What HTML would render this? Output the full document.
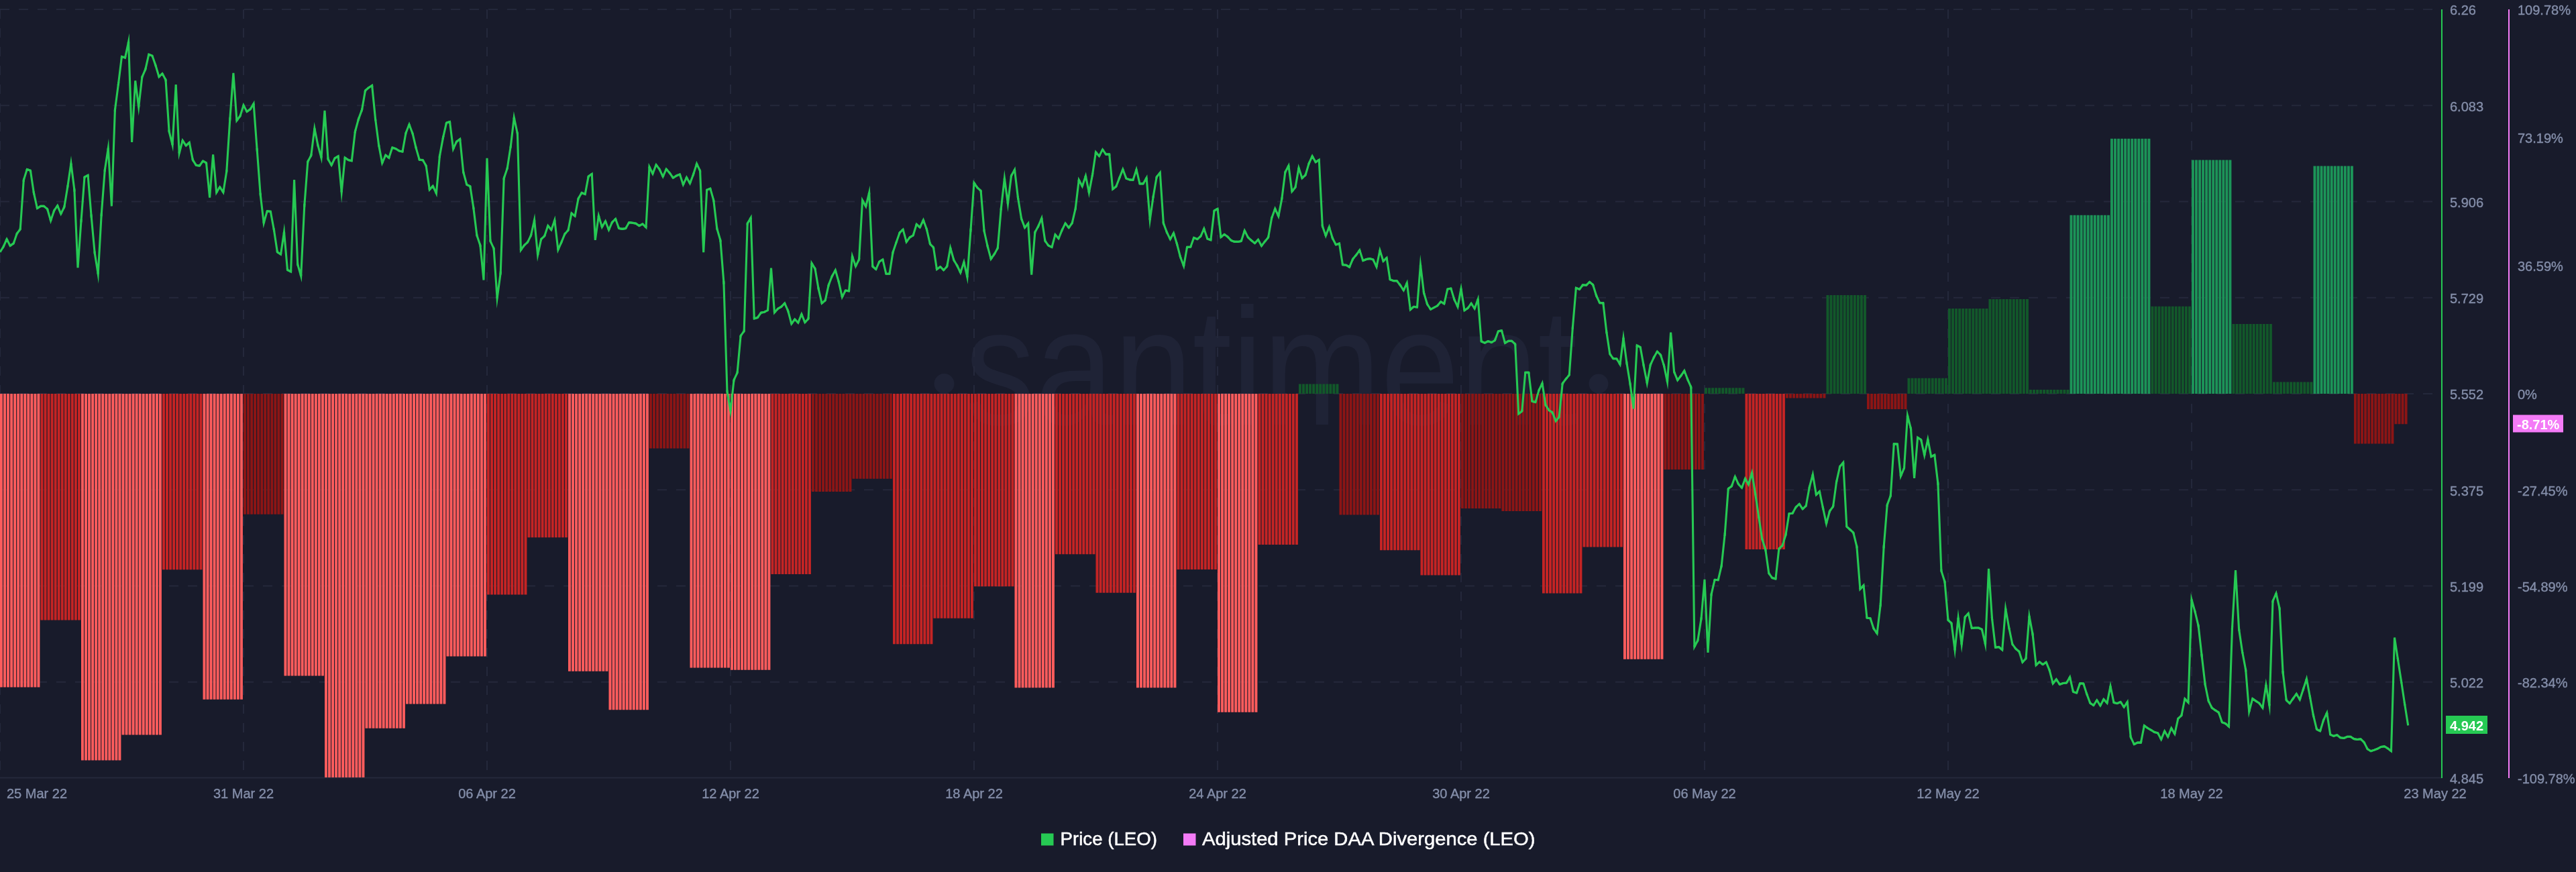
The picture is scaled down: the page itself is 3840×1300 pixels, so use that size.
<!DOCTYPE html>
<html lang="en"><head><meta charset="utf-8"><title>Price (LEO) vs Adjusted Price DAA Divergence (LEO)</title>
<style>html,body{margin:0;padding:0;background:#181b2b;}body{width:3840px;height:1300px;overflow:hidden;}svg{display:block;}text{font-family:"Liberation Sans",sans-serif;}.ax{font-size:20px;fill:#838da8;stroke:#838da8;stroke-width:0.4px;}svg{will-change:transform;}.bd{font-size:20px;font-weight:bold;fill:#fff;}.lg{font-size:28.5px;fill:#fff;stroke:#fff;stroke-width:0.5px;}.wm{font-family:"Liberation Sans",sans-serif;font-size:248px;fill:#1f2336;}</style></head><body>
<svg width="3840" height="1300" viewBox="0 0 3840 1300">
<rect width="3840" height="1300" fill="#181b2b"/>
<circle cx="1407.5" cy="572" r="15" fill="#1f2336"/><circle cx="2383" cy="572" r="14.5" fill="#1f2336"/>
<text class="wm" x="1438" y="633" textLength="913" lengthAdjust="spacingAndGlyphs">santiment</text>
<g stroke="#24283b" stroke-width="2" stroke-dasharray="14 14" fill="none">
<path d="M0 14.00H3630"/>
<path d="M0 157.25H3630"/>
<path d="M0 300.50H3630"/>
<path d="M0 443.75H3630"/>
<path d="M0 587.00H3630"/>
<path d="M0 730.25H3630"/>
<path d="M0 873.50H3630"/>
<path d="M0 1016.75H3630"/>
<path d="M0 14V1159"/>
<path d="M363 14V1159"/>
<path d="M726 14V1159"/>
<path d="M1089 14V1159"/>
<path d="M1452 14V1159"/>
<path d="M1815 14V1159"/>
<path d="M2178 14V1159"/>
<path d="M2541 14V1159"/>
<path d="M2904 14V1159"/>
<path d="M3267 14V1159"/>
</g>
<path d="M0 1159.5H3640" stroke="#24283b" stroke-width="2" fill="none"/>
<path fill="#ff5c5c" d="M0.00 587.0h3.95V1024.5h-3.95zM5.04 587.0h3.95V1024.5h-3.95zM10.08 587.0h3.95V1024.5h-3.95zM15.12 587.0h3.95V1024.5h-3.95zM20.17 587.0h3.95V1024.5h-3.95zM25.21 587.0h3.95V1024.5h-3.95zM30.25 587.0h3.95V1024.5h-3.95zM35.29 587.0h3.95V1024.5h-3.95zM40.33 587.0h3.95V1024.5h-3.95zM45.38 587.0h3.95V1024.5h-3.95zM50.42 587.0h3.95V1024.5h-3.95zM55.46 587.0h3.95V1024.5h-3.95zM121.00 587.0h3.95V1133.5h-3.95zM126.04 587.0h3.95V1133.5h-3.95zM131.08 587.0h3.95V1133.5h-3.95zM136.12 587.0h3.95V1133.5h-3.95zM141.17 587.0h3.95V1133.5h-3.95zM146.21 587.0h3.95V1133.5h-3.95zM151.25 587.0h3.95V1133.5h-3.95zM156.29 587.0h3.95V1133.5h-3.95zM161.33 587.0h3.95V1133.5h-3.95zM166.38 587.0h3.95V1133.5h-3.95zM171.42 587.0h3.95V1133.5h-3.95zM176.46 587.0h3.95V1133.5h-3.95zM181.50 587.0h3.95V1095.6h-3.95zM186.54 587.0h3.95V1095.6h-3.95zM191.58 587.0h3.95V1095.6h-3.95zM196.62 587.0h3.95V1095.6h-3.95zM201.67 587.0h3.95V1095.6h-3.95zM206.71 587.0h3.95V1095.6h-3.95zM211.75 587.0h3.95V1095.6h-3.95zM216.79 587.0h3.95V1095.6h-3.95zM221.83 587.0h3.95V1095.6h-3.95zM226.88 587.0h3.95V1095.6h-3.95zM231.92 587.0h3.95V1095.6h-3.95zM236.96 587.0h3.95V1095.6h-3.95zM302.50 587.0h3.95V1042.8h-3.95zM307.54 587.0h3.95V1042.8h-3.95zM312.58 587.0h3.95V1042.8h-3.95zM317.62 587.0h3.95V1042.8h-3.95zM322.67 587.0h3.95V1042.8h-3.95zM327.71 587.0h3.95V1042.8h-3.95zM332.75 587.0h3.95V1042.8h-3.95zM337.79 587.0h3.95V1042.8h-3.95zM342.83 587.0h3.95V1042.8h-3.95zM347.88 587.0h3.95V1042.8h-3.95zM352.92 587.0h3.95V1042.8h-3.95zM357.96 587.0h3.95V1042.8h-3.95zM423.50 587.0h3.95V1007.6h-3.95zM428.54 587.0h3.95V1007.6h-3.95zM433.58 587.0h3.95V1007.6h-3.95zM438.62 587.0h3.95V1007.6h-3.95zM443.67 587.0h3.95V1007.6h-3.95zM448.71 587.0h3.95V1007.6h-3.95zM453.75 587.0h3.95V1007.6h-3.95zM458.79 587.0h3.95V1007.6h-3.95zM463.83 587.0h3.95V1007.6h-3.95zM468.88 587.0h3.95V1007.6h-3.95zM473.92 587.0h3.95V1007.6h-3.95zM478.96 587.0h3.95V1007.6h-3.95zM484.00 587.0h3.95V1159.0h-3.95zM489.04 587.0h3.95V1159.0h-3.95zM494.08 587.0h3.95V1159.0h-3.95zM499.13 587.0h3.95V1159.0h-3.95zM504.17 587.0h3.95V1159.0h-3.95zM509.21 587.0h3.95V1159.0h-3.95zM514.25 587.0h3.95V1159.0h-3.95zM519.29 587.0h3.95V1159.0h-3.95zM524.33 587.0h3.95V1159.0h-3.95zM529.38 587.0h3.95V1159.0h-3.95zM534.42 587.0h3.95V1159.0h-3.95zM539.46 587.0h3.95V1159.0h-3.95zM544.50 587.0h3.95V1085.8h-3.95zM549.54 587.0h3.95V1085.8h-3.95zM554.58 587.0h3.95V1085.8h-3.95zM559.62 587.0h3.95V1085.8h-3.95zM564.67 587.0h3.95V1085.8h-3.95zM569.71 587.0h3.95V1085.8h-3.95zM574.75 587.0h3.95V1085.8h-3.95zM579.79 587.0h3.95V1085.8h-3.95zM584.83 587.0h3.95V1085.8h-3.95zM589.88 587.0h3.95V1085.8h-3.95zM594.92 587.0h3.95V1085.8h-3.95zM599.96 587.0h3.95V1085.8h-3.95zM605.00 587.0h3.95V1049.6h-3.95zM610.04 587.0h3.95V1049.6h-3.95zM615.08 587.0h3.95V1049.6h-3.95zM620.12 587.0h3.95V1049.6h-3.95zM625.17 587.0h3.95V1049.6h-3.95zM630.21 587.0h3.95V1049.6h-3.95zM635.25 587.0h3.95V1049.6h-3.95zM640.29 587.0h3.95V1049.6h-3.95zM645.33 587.0h3.95V1049.6h-3.95zM650.38 587.0h3.95V1049.6h-3.95zM655.42 587.0h3.95V1049.6h-3.95zM660.46 587.0h3.95V1049.6h-3.95zM665.50 587.0h3.95V978.4h-3.95zM670.54 587.0h3.95V978.4h-3.95zM675.58 587.0h3.95V978.4h-3.95zM680.62 587.0h3.95V978.4h-3.95zM685.67 587.0h3.95V978.4h-3.95zM690.71 587.0h3.95V978.4h-3.95zM695.75 587.0h3.95V978.4h-3.95zM700.79 587.0h3.95V978.4h-3.95zM705.83 587.0h3.95V978.4h-3.95zM710.88 587.0h3.95V978.4h-3.95zM715.92 587.0h3.95V978.4h-3.95zM720.96 587.0h3.95V978.4h-3.95zM847.00 587.0h3.95V1000.8h-3.95zM852.04 587.0h3.95V1000.8h-3.95zM857.08 587.0h3.95V1000.8h-3.95zM862.12 587.0h3.95V1000.8h-3.95zM867.17 587.0h3.95V1000.8h-3.95zM872.21 587.0h3.95V1000.8h-3.95zM877.25 587.0h3.95V1000.8h-3.95zM882.29 587.0h3.95V1000.8h-3.95zM887.33 587.0h3.95V1000.8h-3.95zM892.38 587.0h3.95V1000.8h-3.95zM897.42 587.0h3.95V1000.8h-3.95zM902.46 587.0h3.95V1000.8h-3.95zM907.50 587.0h3.95V1058.2h-3.95zM912.54 587.0h3.95V1058.2h-3.95zM917.58 587.0h3.95V1058.2h-3.95zM922.62 587.0h3.95V1058.2h-3.95zM927.67 587.0h3.95V1058.2h-3.95zM932.71 587.0h3.95V1058.2h-3.95zM937.75 587.0h3.95V1058.2h-3.95zM942.79 587.0h3.95V1058.2h-3.95zM947.83 587.0h3.95V1058.2h-3.95zM952.88 587.0h3.95V1058.2h-3.95zM957.92 587.0h3.95V1058.2h-3.95zM962.96 587.0h3.95V1058.2h-3.95zM1028.50 587.0h3.95V995.4h-3.95zM1033.54 587.0h3.95V995.4h-3.95zM1038.58 587.0h3.95V995.4h-3.95zM1043.62 587.0h3.95V995.4h-3.95zM1048.67 587.0h3.95V995.4h-3.95zM1053.71 587.0h3.95V995.4h-3.95zM1058.75 587.0h3.95V995.4h-3.95zM1063.79 587.0h3.95V995.4h-3.95zM1068.83 587.0h3.95V995.4h-3.95zM1073.88 587.0h3.95V995.4h-3.95zM1078.92 587.0h3.95V995.4h-3.95zM1083.96 587.0h3.95V995.4h-3.95zM1089.00 587.0h3.95V998.8h-3.95zM1094.04 587.0h3.95V998.8h-3.95zM1099.08 587.0h3.95V998.8h-3.95zM1104.12 587.0h3.95V998.8h-3.95zM1109.17 587.0h3.95V998.8h-3.95zM1114.21 587.0h3.95V998.8h-3.95zM1119.25 587.0h3.95V998.8h-3.95zM1124.29 587.0h3.95V998.8h-3.95zM1129.33 587.0h3.95V998.8h-3.95zM1134.38 587.0h3.95V998.8h-3.95zM1139.42 587.0h3.95V998.8h-3.95zM1144.46 587.0h3.95V998.8h-3.95zM1512.50 587.0h3.95V1025.2h-3.95zM1517.54 587.0h3.95V1025.2h-3.95zM1522.58 587.0h3.95V1025.2h-3.95zM1527.62 587.0h3.95V1025.2h-3.95zM1532.67 587.0h3.95V1025.2h-3.95zM1537.71 587.0h3.95V1025.2h-3.95zM1542.75 587.0h3.95V1025.2h-3.95zM1547.79 587.0h3.95V1025.2h-3.95zM1552.83 587.0h3.95V1025.2h-3.95zM1557.88 587.0h3.95V1025.2h-3.95zM1562.92 587.0h3.95V1025.2h-3.95zM1567.96 587.0h3.95V1025.2h-3.95zM1694.00 587.0h3.95V1025.2h-3.95zM1699.04 587.0h3.95V1025.2h-3.95zM1704.08 587.0h3.95V1025.2h-3.95zM1709.12 587.0h3.95V1025.2h-3.95zM1714.17 587.0h3.95V1025.2h-3.95zM1719.21 587.0h3.95V1025.2h-3.95zM1724.25 587.0h3.95V1025.2h-3.95zM1729.29 587.0h3.95V1025.2h-3.95zM1734.33 587.0h3.95V1025.2h-3.95zM1739.38 587.0h3.95V1025.2h-3.95zM1744.42 587.0h3.95V1025.2h-3.95zM1749.46 587.0h3.95V1025.2h-3.95zM1815.00 587.0h3.95V1061.7h-3.95zM1820.04 587.0h3.95V1061.7h-3.95zM1825.08 587.0h3.95V1061.7h-3.95zM1830.12 587.0h3.95V1061.7h-3.95zM1835.17 587.0h3.95V1061.7h-3.95zM1840.21 587.0h3.95V1061.7h-3.95zM1845.25 587.0h3.95V1061.7h-3.95zM1850.29 587.0h3.95V1061.7h-3.95zM1855.33 587.0h3.95V1061.7h-3.95zM1860.38 587.0h3.95V1061.7h-3.95zM1865.42 587.0h3.95V1061.7h-3.95zM1870.46 587.0h3.95V1061.7h-3.95zM2420.00 587.0h3.95V982.7h-3.95zM2425.04 587.0h3.95V982.7h-3.95zM2430.08 587.0h3.95V982.7h-3.95zM2435.12 587.0h3.95V982.7h-3.95zM2440.17 587.0h3.95V982.7h-3.95zM2445.21 587.0h3.95V982.7h-3.95zM2450.25 587.0h3.95V982.7h-3.95zM2455.29 587.0h3.95V982.7h-3.95zM2460.33 587.0h3.95V982.7h-3.95zM2465.38 587.0h3.95V982.7h-3.95zM2470.42 587.0h3.95V982.7h-3.95zM2475.46 587.0h3.95V982.7h-3.95z"/>
<path fill="#c42424" d="M60.50 587.0h3.95V924.4h-3.95zM65.54 587.0h3.95V924.4h-3.95zM70.58 587.0h3.95V924.4h-3.95zM75.62 587.0h3.95V924.4h-3.95zM80.67 587.0h3.95V924.4h-3.95zM85.71 587.0h3.95V924.4h-3.95zM90.75 587.0h3.95V924.4h-3.95zM95.79 587.0h3.95V924.4h-3.95zM100.83 587.0h3.95V924.4h-3.95zM105.88 587.0h3.95V924.4h-3.95zM110.92 587.0h3.95V924.4h-3.95zM115.96 587.0h3.95V924.4h-3.95zM242.00 587.0h3.95V849.3h-3.95zM247.04 587.0h3.95V849.3h-3.95zM252.08 587.0h3.95V849.3h-3.95zM257.12 587.0h3.95V849.3h-3.95zM262.17 587.0h3.95V849.3h-3.95zM267.21 587.0h3.95V849.3h-3.95zM272.25 587.0h3.95V849.3h-3.95zM277.29 587.0h3.95V849.3h-3.95zM282.33 587.0h3.95V849.3h-3.95zM287.38 587.0h3.95V849.3h-3.95zM292.42 587.0h3.95V849.3h-3.95zM297.46 587.0h3.95V849.3h-3.95zM726.00 587.0h3.95V886.5h-3.95zM731.04 587.0h3.95V886.5h-3.95zM736.08 587.0h3.95V886.5h-3.95zM741.12 587.0h3.95V886.5h-3.95zM746.17 587.0h3.95V886.5h-3.95zM751.21 587.0h3.95V886.5h-3.95zM756.25 587.0h3.95V886.5h-3.95zM761.29 587.0h3.95V886.5h-3.95zM766.33 587.0h3.95V886.5h-3.95zM771.38 587.0h3.95V886.5h-3.95zM776.42 587.0h3.95V886.5h-3.95zM781.46 587.0h3.95V886.5h-3.95zM786.50 587.0h3.95V801.2h-3.95zM791.54 587.0h3.95V801.2h-3.95zM796.58 587.0h3.95V801.2h-3.95zM801.62 587.0h3.95V801.2h-3.95zM806.67 587.0h3.95V801.2h-3.95zM811.71 587.0h3.95V801.2h-3.95zM816.75 587.0h3.95V801.2h-3.95zM821.79 587.0h3.95V801.2h-3.95zM826.83 587.0h3.95V801.2h-3.95zM831.88 587.0h3.95V801.2h-3.95zM836.92 587.0h3.95V801.2h-3.95zM841.96 587.0h3.95V801.2h-3.95zM1149.50 587.0h3.95V856.0h-3.95zM1154.54 587.0h3.95V856.0h-3.95zM1159.58 587.0h3.95V856.0h-3.95zM1164.62 587.0h3.95V856.0h-3.95zM1169.67 587.0h3.95V856.0h-3.95zM1174.71 587.0h3.95V856.0h-3.95zM1179.75 587.0h3.95V856.0h-3.95zM1184.79 587.0h3.95V856.0h-3.95zM1189.83 587.0h3.95V856.0h-3.95zM1194.88 587.0h3.95V856.0h-3.95zM1199.92 587.0h3.95V856.0h-3.95zM1204.96 587.0h3.95V856.0h-3.95zM1331.00 587.0h3.95V960.2h-3.95zM1336.04 587.0h3.95V960.2h-3.95zM1341.08 587.0h3.95V960.2h-3.95zM1346.12 587.0h3.95V960.2h-3.95zM1351.17 587.0h3.95V960.2h-3.95zM1356.21 587.0h3.95V960.2h-3.95zM1361.25 587.0h3.95V960.2h-3.95zM1366.29 587.0h3.95V960.2h-3.95zM1371.33 587.0h3.95V960.2h-3.95zM1376.38 587.0h3.95V960.2h-3.95zM1381.42 587.0h3.95V960.2h-3.95zM1386.46 587.0h3.95V960.2h-3.95zM1391.50 587.0h3.95V921.7h-3.95zM1396.54 587.0h3.95V921.7h-3.95zM1401.58 587.0h3.95V921.7h-3.95zM1406.62 587.0h3.95V921.7h-3.95zM1411.67 587.0h3.95V921.7h-3.95zM1416.71 587.0h3.95V921.7h-3.95zM1421.75 587.0h3.95V921.7h-3.95zM1426.79 587.0h3.95V921.7h-3.95zM1431.83 587.0h3.95V921.7h-3.95zM1436.88 587.0h3.95V921.7h-3.95zM1441.92 587.0h3.95V921.7h-3.95zM1446.96 587.0h3.95V921.7h-3.95zM1452.00 587.0h3.95V874.3h-3.95zM1457.04 587.0h3.95V874.3h-3.95zM1462.08 587.0h3.95V874.3h-3.95zM1467.12 587.0h3.95V874.3h-3.95zM1472.17 587.0h3.95V874.3h-3.95zM1477.21 587.0h3.95V874.3h-3.95zM1482.25 587.0h3.95V874.3h-3.95zM1487.29 587.0h3.95V874.3h-3.95zM1492.33 587.0h3.95V874.3h-3.95zM1497.38 587.0h3.95V874.3h-3.95zM1502.42 587.0h3.95V874.3h-3.95zM1507.46 587.0h3.95V874.3h-3.95zM1573.00 587.0h3.95V826.3h-3.95zM1578.04 587.0h3.95V826.3h-3.95zM1583.08 587.0h3.95V826.3h-3.95zM1588.12 587.0h3.95V826.3h-3.95zM1593.17 587.0h3.95V826.3h-3.95zM1598.21 587.0h3.95V826.3h-3.95zM1603.25 587.0h3.95V826.3h-3.95zM1608.29 587.0h3.95V826.3h-3.95zM1613.33 587.0h3.95V826.3h-3.95zM1618.38 587.0h3.95V826.3h-3.95zM1623.42 587.0h3.95V826.3h-3.95zM1628.46 587.0h3.95V826.3h-3.95zM1633.50 587.0h3.95V883.8h-3.95zM1638.54 587.0h3.95V883.8h-3.95zM1643.58 587.0h3.95V883.8h-3.95zM1648.62 587.0h3.95V883.8h-3.95zM1653.67 587.0h3.95V883.8h-3.95zM1658.71 587.0h3.95V883.8h-3.95zM1663.75 587.0h3.95V883.8h-3.95zM1668.79 587.0h3.95V883.8h-3.95zM1673.83 587.0h3.95V883.8h-3.95zM1678.88 587.0h3.95V883.8h-3.95zM1683.92 587.0h3.95V883.8h-3.95zM1688.96 587.0h3.95V883.8h-3.95zM1754.50 587.0h3.95V849.0h-3.95zM1759.54 587.0h3.95V849.0h-3.95zM1764.58 587.0h3.95V849.0h-3.95zM1769.62 587.0h3.95V849.0h-3.95zM1774.67 587.0h3.95V849.0h-3.95zM1779.71 587.0h3.95V849.0h-3.95zM1784.75 587.0h3.95V849.0h-3.95zM1789.79 587.0h3.95V849.0h-3.95zM1794.83 587.0h3.95V849.0h-3.95zM1799.88 587.0h3.95V849.0h-3.95zM1804.92 587.0h3.95V849.0h-3.95zM1809.96 587.0h3.95V849.0h-3.95zM1875.50 587.0h3.95V812.0h-3.95zM1880.54 587.0h3.95V812.0h-3.95zM1885.58 587.0h3.95V812.0h-3.95zM1890.62 587.0h3.95V812.0h-3.95zM1895.67 587.0h3.95V812.0h-3.95zM1900.71 587.0h3.95V812.0h-3.95zM1905.75 587.0h3.95V812.0h-3.95zM1910.79 587.0h3.95V812.0h-3.95zM1915.83 587.0h3.95V812.0h-3.95zM1920.88 587.0h3.95V812.0h-3.95zM1925.92 587.0h3.95V812.0h-3.95zM1930.96 587.0h3.95V812.0h-3.95zM2057.00 587.0h3.95V820.2h-3.95zM2062.04 587.0h3.95V820.2h-3.95zM2067.08 587.0h3.95V820.2h-3.95zM2072.12 587.0h3.95V820.2h-3.95zM2077.17 587.0h3.95V820.2h-3.95zM2082.21 587.0h3.95V820.2h-3.95zM2087.25 587.0h3.95V820.2h-3.95zM2092.29 587.0h3.95V820.2h-3.95zM2097.33 587.0h3.95V820.2h-3.95zM2102.38 587.0h3.95V820.2h-3.95zM2107.42 587.0h3.95V820.2h-3.95zM2112.46 587.0h3.95V820.2h-3.95zM2117.50 587.0h3.95V857.4h-3.95zM2122.54 587.0h3.95V857.4h-3.95zM2127.58 587.0h3.95V857.4h-3.95zM2132.62 587.0h3.95V857.4h-3.95zM2137.67 587.0h3.95V857.4h-3.95zM2142.71 587.0h3.95V857.4h-3.95zM2147.75 587.0h3.95V857.4h-3.95zM2152.79 587.0h3.95V857.4h-3.95zM2157.83 587.0h3.95V857.4h-3.95zM2162.88 587.0h3.95V857.4h-3.95zM2167.92 587.0h3.95V857.4h-3.95zM2172.96 587.0h3.95V857.4h-3.95zM2299.00 587.0h3.95V884.5h-3.95zM2304.04 587.0h3.95V884.5h-3.95zM2309.08 587.0h3.95V884.5h-3.95zM2314.12 587.0h3.95V884.5h-3.95zM2319.17 587.0h3.95V884.5h-3.95zM2324.21 587.0h3.95V884.5h-3.95zM2329.25 587.0h3.95V884.5h-3.95zM2334.29 587.0h3.95V884.5h-3.95zM2339.33 587.0h3.95V884.5h-3.95zM2344.38 587.0h3.95V884.5h-3.95zM2349.42 587.0h3.95V884.5h-3.95zM2354.46 587.0h3.95V884.5h-3.95zM2359.50 587.0h3.95V815.5h-3.95zM2364.54 587.0h3.95V815.5h-3.95zM2369.58 587.0h3.95V815.5h-3.95zM2374.62 587.0h3.95V815.5h-3.95zM2379.67 587.0h3.95V815.5h-3.95zM2384.71 587.0h3.95V815.5h-3.95zM2389.75 587.0h3.95V815.5h-3.95zM2394.79 587.0h3.95V815.5h-3.95zM2399.83 587.0h3.95V815.5h-3.95zM2404.88 587.0h3.95V815.5h-3.95zM2409.92 587.0h3.95V815.5h-3.95zM2414.96 587.0h3.95V815.5h-3.95zM2601.50 587.0h3.95V819.0h-3.95zM2606.54 587.0h3.95V819.0h-3.95zM2611.58 587.0h3.95V819.0h-3.95zM2616.62 587.0h3.95V819.0h-3.95zM2621.67 587.0h3.95V819.0h-3.95zM2626.71 587.0h3.95V819.0h-3.95zM2631.75 587.0h3.95V819.0h-3.95zM2636.79 587.0h3.95V819.0h-3.95zM2641.83 587.0h3.95V819.0h-3.95zM2646.88 587.0h3.95V819.0h-3.95zM2651.92 587.0h3.95V819.0h-3.95zM2656.96 587.0h3.95V819.0h-3.95z"/>
<path fill="#8c1515" d="M363.00 587.0h3.95V766.7h-3.95zM368.04 587.0h3.95V766.7h-3.95zM373.08 587.0h3.95V766.7h-3.95zM378.12 587.0h3.95V766.7h-3.95zM383.17 587.0h3.95V766.7h-3.95zM388.21 587.0h3.95V766.7h-3.95zM393.25 587.0h3.95V766.7h-3.95zM398.29 587.0h3.95V766.7h-3.95zM403.33 587.0h3.95V766.7h-3.95zM408.38 587.0h3.95V766.7h-3.95zM413.42 587.0h3.95V766.7h-3.95zM418.46 587.0h3.95V766.7h-3.95zM968.00 587.0h3.95V668.6h-3.95zM973.04 587.0h3.95V668.6h-3.95zM978.08 587.0h3.95V668.6h-3.95zM983.13 587.0h3.95V668.6h-3.95zM988.17 587.0h3.95V668.6h-3.95zM993.21 587.0h3.95V668.6h-3.95zM998.25 587.0h3.95V668.6h-3.95zM1003.29 587.0h3.95V668.6h-3.95zM1008.33 587.0h3.95V668.6h-3.95zM1013.38 587.0h3.95V668.6h-3.95zM1018.42 587.0h3.95V668.6h-3.95zM1023.46 587.0h3.95V668.6h-3.95zM1210.00 587.0h3.95V732.9h-3.95zM1215.04 587.0h3.95V732.9h-3.95zM1220.08 587.0h3.95V732.9h-3.95zM1225.12 587.0h3.95V732.9h-3.95zM1230.17 587.0h3.95V732.9h-3.95zM1235.21 587.0h3.95V732.9h-3.95zM1240.25 587.0h3.95V732.9h-3.95zM1245.29 587.0h3.95V732.9h-3.95zM1250.33 587.0h3.95V732.9h-3.95zM1255.38 587.0h3.95V732.9h-3.95zM1260.42 587.0h3.95V732.9h-3.95zM1265.46 587.0h3.95V732.9h-3.95zM1270.50 587.0h3.95V713.7h-3.95zM1275.54 587.0h3.95V713.7h-3.95zM1280.58 587.0h3.95V713.7h-3.95zM1285.62 587.0h3.95V713.7h-3.95zM1290.67 587.0h3.95V713.7h-3.95zM1295.71 587.0h3.95V713.7h-3.95zM1300.75 587.0h3.95V713.7h-3.95zM1305.79 587.0h3.95V713.7h-3.95zM1310.83 587.0h3.95V713.7h-3.95zM1315.88 587.0h3.95V713.7h-3.95zM1320.92 587.0h3.95V713.7h-3.95zM1325.96 587.0h3.95V713.7h-3.95zM1996.50 587.0h3.95V767.4h-3.95zM2001.54 587.0h3.95V767.4h-3.95zM2006.58 587.0h3.95V767.4h-3.95zM2011.63 587.0h3.95V767.4h-3.95zM2016.67 587.0h3.95V767.4h-3.95zM2021.71 587.0h3.95V767.4h-3.95zM2026.75 587.0h3.95V767.4h-3.95zM2031.79 587.0h3.95V767.4h-3.95zM2036.83 587.0h3.95V767.4h-3.95zM2041.88 587.0h3.95V767.4h-3.95zM2046.92 587.0h3.95V767.4h-3.95zM2051.96 587.0h3.95V767.4h-3.95zM2178.00 587.0h3.95V757.9h-3.95zM2183.04 587.0h3.95V757.9h-3.95zM2188.08 587.0h3.95V757.9h-3.95zM2193.12 587.0h3.95V757.9h-3.95zM2198.17 587.0h3.95V757.9h-3.95zM2203.21 587.0h3.95V757.9h-3.95zM2208.25 587.0h3.95V757.9h-3.95zM2213.29 587.0h3.95V757.9h-3.95zM2218.33 587.0h3.95V757.9h-3.95zM2223.38 587.0h3.95V757.9h-3.95zM2228.42 587.0h3.95V757.9h-3.95zM2233.46 587.0h3.95V757.9h-3.95zM2238.50 587.0h3.95V762.0h-3.95zM2243.54 587.0h3.95V762.0h-3.95zM2248.58 587.0h3.95V762.0h-3.95zM2253.62 587.0h3.95V762.0h-3.95zM2258.67 587.0h3.95V762.0h-3.95zM2263.71 587.0h3.95V762.0h-3.95zM2268.75 587.0h3.95V762.0h-3.95zM2273.79 587.0h3.95V762.0h-3.95zM2278.83 587.0h3.95V762.0h-3.95zM2283.88 587.0h3.95V762.0h-3.95zM2288.92 587.0h3.95V762.0h-3.95zM2293.96 587.0h3.95V762.0h-3.95zM2480.50 587.0h3.95V700.0h-3.95zM2485.54 587.0h3.95V700.0h-3.95zM2490.58 587.0h3.95V700.0h-3.95zM2495.62 587.0h3.95V700.0h-3.95zM2500.67 587.0h3.95V700.0h-3.95zM2505.71 587.0h3.95V700.0h-3.95zM2510.75 587.0h3.95V700.0h-3.95zM2515.79 587.0h3.95V700.0h-3.95zM2520.83 587.0h3.95V700.0h-3.95zM2525.88 587.0h3.95V700.0h-3.95zM2530.92 587.0h3.95V700.0h-3.95zM2535.96 587.0h3.95V700.0h-3.95zM2662.00 587.0h3.95V593.4h-3.95zM2667.04 587.0h3.95V593.4h-3.95zM2672.08 587.0h3.95V593.4h-3.95zM2677.12 587.0h3.95V593.4h-3.95zM2682.17 587.0h3.95V593.4h-3.95zM2687.21 587.0h3.95V593.4h-3.95zM2692.25 587.0h3.95V593.4h-3.95zM2697.29 587.0h3.95V593.4h-3.95zM2702.33 587.0h3.95V593.4h-3.95zM2707.38 587.0h3.95V593.4h-3.95zM2712.42 587.0h3.95V593.4h-3.95zM2717.46 587.0h3.95V593.4h-3.95zM2783.00 587.0h3.95V609.9h-3.95zM2788.04 587.0h3.95V609.9h-3.95zM2793.08 587.0h3.95V609.9h-3.95zM2798.12 587.0h3.95V609.9h-3.95zM2803.17 587.0h3.95V609.9h-3.95zM2808.21 587.0h3.95V609.9h-3.95zM2813.25 587.0h3.95V609.9h-3.95zM2818.29 587.0h3.95V609.9h-3.95zM2823.33 587.0h3.95V609.9h-3.95zM2828.38 587.0h3.95V609.9h-3.95zM2833.42 587.0h3.95V609.9h-3.95zM2838.46 587.0h3.95V609.9h-3.95zM3509.00 587.0h3.95V661.4h-3.95zM3514.04 587.0h3.95V661.4h-3.95zM3519.08 587.0h3.95V661.4h-3.95zM3524.12 587.0h3.95V661.4h-3.95zM3529.17 587.0h3.95V661.4h-3.95zM3534.21 587.0h3.95V661.4h-3.95zM3539.25 587.0h3.95V661.4h-3.95zM3544.29 587.0h3.95V661.4h-3.95zM3549.33 587.0h3.95V661.4h-3.95zM3554.38 587.0h3.95V661.4h-3.95zM3559.42 587.0h3.95V661.4h-3.95zM3564.46 587.0h3.95V661.4h-3.95zM3569.50 587.0h3.95V632.3h-3.95zM3574.54 587.0h3.95V632.3h-3.95zM3579.58 587.0h3.95V632.3h-3.95zM3584.62 587.0h3.95V632.3h-3.95z"/>
<path fill="#12582a" d="M1936.00 572.5h3.95V587.0h-3.95zM1941.04 572.5h3.95V587.0h-3.95zM1946.08 572.5h3.95V587.0h-3.95zM1951.13 572.5h3.95V587.0h-3.95zM1956.17 572.5h3.95V587.0h-3.95zM1961.21 572.5h3.95V587.0h-3.95zM1966.25 572.5h3.95V587.0h-3.95zM1971.29 572.5h3.95V587.0h-3.95zM1976.33 572.5h3.95V587.0h-3.95zM1981.38 572.5h3.95V587.0h-3.95zM1986.42 572.5h3.95V587.0h-3.95zM1991.46 572.5h3.95V587.0h-3.95zM2541.00 578.2h3.95V587.0h-3.95zM2546.04 578.2h3.95V587.0h-3.95zM2551.08 578.2h3.95V587.0h-3.95zM2556.12 578.2h3.95V587.0h-3.95zM2561.17 578.2h3.95V587.0h-3.95zM2566.21 578.2h3.95V587.0h-3.95zM2571.25 578.2h3.95V587.0h-3.95zM2576.29 578.2h3.95V587.0h-3.95zM2581.33 578.2h3.95V587.0h-3.95zM2586.38 578.2h3.95V587.0h-3.95zM2591.42 578.2h3.95V587.0h-3.95zM2596.46 578.2h3.95V587.0h-3.95zM2722.50 439.9h3.95V587.0h-3.95zM2727.54 439.9h3.95V587.0h-3.95zM2732.58 439.9h3.95V587.0h-3.95zM2737.62 439.9h3.95V587.0h-3.95zM2742.67 439.9h3.95V587.0h-3.95zM2747.71 439.9h3.95V587.0h-3.95zM2752.75 439.9h3.95V587.0h-3.95zM2757.79 439.9h3.95V587.0h-3.95zM2762.83 439.9h3.95V587.0h-3.95zM2767.88 439.9h3.95V587.0h-3.95zM2772.92 439.9h3.95V587.0h-3.95zM2777.96 439.9h3.95V587.0h-3.95zM2843.50 563.8h3.95V587.0h-3.95zM2848.54 563.8h3.95V587.0h-3.95zM2853.58 563.8h3.95V587.0h-3.95zM2858.62 563.8h3.95V587.0h-3.95zM2863.67 563.8h3.95V587.0h-3.95zM2868.71 563.8h3.95V587.0h-3.95zM2873.75 563.8h3.95V587.0h-3.95zM2878.79 563.8h3.95V587.0h-3.95zM2883.83 563.8h3.95V587.0h-3.95zM2888.88 563.8h3.95V587.0h-3.95zM2893.92 563.8h3.95V587.0h-3.95zM2898.96 563.8h3.95V587.0h-3.95zM2904.00 459.9h3.95V587.0h-3.95zM2909.04 459.9h3.95V587.0h-3.95zM2914.08 459.9h3.95V587.0h-3.95zM2919.12 459.9h3.95V587.0h-3.95zM2924.17 459.9h3.95V587.0h-3.95zM2929.21 459.9h3.95V587.0h-3.95zM2934.25 459.9h3.95V587.0h-3.95zM2939.29 459.9h3.95V587.0h-3.95zM2944.33 459.9h3.95V587.0h-3.95zM2949.38 459.9h3.95V587.0h-3.95zM2954.42 459.9h3.95V587.0h-3.95zM2959.46 459.9h3.95V587.0h-3.95zM2964.50 446.0h3.95V587.0h-3.95zM2969.54 446.0h3.95V587.0h-3.95zM2974.58 446.0h3.95V587.0h-3.95zM2979.62 446.0h3.95V587.0h-3.95zM2984.67 446.0h3.95V587.0h-3.95zM2989.71 446.0h3.95V587.0h-3.95zM2994.75 446.0h3.95V587.0h-3.95zM2999.79 446.0h3.95V587.0h-3.95zM3004.83 446.0h3.95V587.0h-3.95zM3009.88 446.0h3.95V587.0h-3.95zM3014.92 446.0h3.95V587.0h-3.95zM3019.96 446.0h3.95V587.0h-3.95zM3025.00 581.0h3.95V587.0h-3.95zM3030.04 581.0h3.95V587.0h-3.95zM3035.08 581.0h3.95V587.0h-3.95zM3040.12 581.0h3.95V587.0h-3.95zM3045.17 581.0h3.95V587.0h-3.95zM3050.21 581.0h3.95V587.0h-3.95zM3055.25 581.0h3.95V587.0h-3.95zM3060.29 581.0h3.95V587.0h-3.95zM3065.33 581.0h3.95V587.0h-3.95zM3070.38 581.0h3.95V587.0h-3.95zM3075.42 581.0h3.95V587.0h-3.95zM3080.46 581.0h3.95V587.0h-3.95zM3206.50 456.7h3.95V587.0h-3.95zM3211.54 456.7h3.95V587.0h-3.95zM3216.58 456.7h3.95V587.0h-3.95zM3221.62 456.7h3.95V587.0h-3.95zM3226.67 456.7h3.95V587.0h-3.95zM3231.71 456.7h3.95V587.0h-3.95zM3236.75 456.7h3.95V587.0h-3.95zM3241.79 456.7h3.95V587.0h-3.95zM3246.83 456.7h3.95V587.0h-3.95zM3251.88 456.7h3.95V587.0h-3.95zM3256.92 456.7h3.95V587.0h-3.95zM3261.96 456.7h3.95V587.0h-3.95zM3327.50 482.9h3.95V587.0h-3.95zM3332.54 482.9h3.95V587.0h-3.95zM3337.58 482.9h3.95V587.0h-3.95zM3342.62 482.9h3.95V587.0h-3.95zM3347.67 482.9h3.95V587.0h-3.95zM3352.71 482.9h3.95V587.0h-3.95zM3357.75 482.9h3.95V587.0h-3.95zM3362.79 482.9h3.95V587.0h-3.95zM3367.83 482.9h3.95V587.0h-3.95zM3372.88 482.9h3.95V587.0h-3.95zM3377.92 482.9h3.95V587.0h-3.95zM3382.96 482.9h3.95V587.0h-3.95zM3388.00 569.4h3.95V587.0h-3.95zM3393.04 569.4h3.95V587.0h-3.95zM3398.08 569.4h3.95V587.0h-3.95zM3403.12 569.4h3.95V587.0h-3.95zM3408.17 569.4h3.95V587.0h-3.95zM3413.21 569.4h3.95V587.0h-3.95zM3418.25 569.4h3.95V587.0h-3.95zM3423.29 569.4h3.95V587.0h-3.95zM3428.33 569.4h3.95V587.0h-3.95zM3433.38 569.4h3.95V587.0h-3.95zM3438.42 569.4h3.95V587.0h-3.95zM3443.46 569.4h3.95V587.0h-3.95z"/>
<path fill="#1c9458" d="M3085.50 320.7h3.95V587.0h-3.95zM3090.54 320.7h3.95V587.0h-3.95zM3095.58 320.7h3.95V587.0h-3.95zM3100.62 320.7h3.95V587.0h-3.95zM3105.67 320.7h3.95V587.0h-3.95zM3110.71 320.7h3.95V587.0h-3.95zM3115.75 320.7h3.95V587.0h-3.95zM3120.79 320.7h3.95V587.0h-3.95zM3125.83 320.7h3.95V587.0h-3.95zM3130.88 320.7h3.95V587.0h-3.95zM3135.92 320.7h3.95V587.0h-3.95zM3140.96 320.7h3.95V587.0h-3.95zM3146.00 206.8h3.95V587.0h-3.95zM3151.04 206.8h3.95V587.0h-3.95zM3156.08 206.8h3.95V587.0h-3.95zM3161.12 206.8h3.95V587.0h-3.95zM3166.17 206.8h3.95V587.0h-3.95zM3171.21 206.8h3.95V587.0h-3.95zM3176.25 206.8h3.95V587.0h-3.95zM3181.29 206.8h3.95V587.0h-3.95zM3186.33 206.8h3.95V587.0h-3.95zM3191.38 206.8h3.95V587.0h-3.95zM3196.42 206.8h3.95V587.0h-3.95zM3201.46 206.8h3.95V587.0h-3.95zM3267.00 238.4h3.95V587.0h-3.95zM3272.04 238.4h3.95V587.0h-3.95zM3277.08 238.4h3.95V587.0h-3.95zM3282.12 238.4h3.95V587.0h-3.95zM3287.17 238.4h3.95V587.0h-3.95zM3292.21 238.4h3.95V587.0h-3.95zM3297.25 238.4h3.95V587.0h-3.95zM3302.29 238.4h3.95V587.0h-3.95zM3307.33 238.4h3.95V587.0h-3.95zM3312.38 238.4h3.95V587.0h-3.95zM3317.42 238.4h3.95V587.0h-3.95zM3322.46 238.4h3.95V587.0h-3.95zM3448.50 247.4h3.95V587.0h-3.95zM3453.54 247.4h3.95V587.0h-3.95zM3458.58 247.4h3.95V587.0h-3.95zM3463.62 247.4h3.95V587.0h-3.95zM3468.67 247.4h3.95V587.0h-3.95zM3473.71 247.4h3.95V587.0h-3.95zM3478.75 247.4h3.95V587.0h-3.95zM3483.79 247.4h3.95V587.0h-3.95zM3488.83 247.4h3.95V587.0h-3.95zM3493.88 247.4h3.95V587.0h-3.95zM3498.92 247.4h3.95V587.0h-3.95zM3503.96 247.4h3.95V587.0h-3.95z"/>
<path d="M0.0 375.8 5.0 368.0 10.1 356.5 15.1 366.4 20.2 362.9 25.2 348.3 30.2 341.8 35.3 268.4 40.3 252.5 45.4 254.2 50.4 287.7 55.5 310.6 60.5 307.4 65.5 307.4 70.6 311.6 75.6 329.0 80.7 313.9 85.7 306.6 90.8 318.8 95.8 308.8 100.8 278.5 105.9 243.6 110.9 283.1 116.0 399.2 121.0 329.0 126.0 263.9 131.1 261.3 136.1 322.1 141.2 377.2 146.2 408.5 151.2 319.8 156.3 253.3 161.3 221.1 166.4 307.4 171.4 163.9 176.5 124.9 181.5 84.4 186.5 86.1 191.6 62.3 196.6 212.0 201.7 120.3 206.7 159.7 211.8 114.8 216.8 103.3 221.8 81.1 226.9 83.1 231.9 97.3 237.0 114.5 242.0 109.7 247.0 118.9 252.1 196.0 257.1 215.9 262.2 126.2 267.2 228.5 272.2 209.4 277.3 217.2 282.3 212.5 287.4 238.6 292.4 246.4 297.5 247.1 302.5 240.0 307.5 242.8 312.6 294.6 317.6 230.4 322.7 287.0 327.7 278.8 332.8 286.7 337.8 255.6 342.8 177.6 347.9 108.8 352.9 179.7 358.0 173.0 363.0 156.9 368.0 166.4 373.1 162.9 378.1 154.6 383.2 223.5 388.2 290.0 393.2 332.6 398.3 314.7 403.3 315.2 408.4 342.8 413.4 375.8 418.5 379.2 423.5 345.9 428.5 402.4 433.6 405.0 438.6 268.0 443.7 394.1 448.7 411.5 453.8 306.1 458.8 240.9 463.8 231.7 468.9 191.5 473.9 216.6 479.0 235.2 484.0 164.8 489.0 237.2 494.1 246.2 499.1 235.9 504.2 232.9 509.2 286.3 514.2 235.0 519.3 238.6 524.3 239.8 529.4 196.0 534.4 177.6 539.5 163.9 544.5 135.0 549.5 130.8 554.6 127.5 559.6 177.6 564.7 216.6 569.7 243.1 574.8 231.3 579.8 235.3 584.8 220.0 589.9 221.7 594.9 224.9 600.0 226.1 605.0 198.3 610.0 185.5 615.1 199.2 620.1 220.3 625.2 238.2 630.2 238.6 635.2 247.3 640.3 282.7 645.3 277.3 650.4 288.4 655.4 232.7 660.5 205.1 665.5 183.1 670.5 181.6 675.6 222.2 680.6 211.1 685.7 207.4 690.7 256.5 695.8 275.3 700.8 277.6 705.8 309.7 710.9 351.0 715.9 365.7 721.0 417.5 726.0 235.9 731.0 359.7 736.1 370.3 741.1 444.6 746.2 407.0 751.2 265.7 756.2 251.0 761.3 218.0 766.3 175.3 771.4 199.2 776.4 372.9 781.5 365.7 786.5 361.1 791.5 351.0 796.6 328.0 801.6 380.2 806.7 356.5 811.7 351.9 816.8 336.5 821.8 342.7 826.8 328.2 831.9 372.4 836.9 361.1 842.0 348.7 847.0 343.2 852.0 317.9 857.1 322.2 862.1 296.0 867.2 287.3 872.2 289.6 877.2 262.9 882.3 259.3 887.3 357.9 892.4 321.6 897.4 338.5 902.5 329.8 907.5 342.8 912.5 331.3 917.6 326.4 922.6 340.5 927.7 341.4 932.7 340.5 937.8 331.6 942.8 332.2 947.8 333.1 952.9 336.6 957.9 333.9 963.0 339.0 968.0 248.7 973.0 259.0 978.1 245.6 983.1 252.4 988.2 263.3 993.2 252.1 998.3 257.9 1003.3 265.2 1008.3 262.0 1013.4 259.9 1018.4 275.3 1023.5 264.5 1028.5 273.4 1033.5 260.2 1038.6 244.1 1043.6 254.7 1048.7 376.2 1053.7 283.1 1058.8 281.1 1063.8 298.7 1068.8 340.9 1073.9 358.3 1078.9 421.2 1084.0 584.0 1089.0 612.7 1094.0 566.6 1099.1 555.6 1104.1 500.6 1109.2 493.7 1114.2 333.1 1119.2 324.7 1124.3 475.0 1129.3 473.5 1134.4 466.1 1139.4 465.2 1144.5 462.5 1149.5 399.6 1154.5 465.9 1159.6 460.2 1164.6 457.4 1169.7 452.1 1174.7 463.4 1179.8 482.7 1184.8 476.0 1189.8 481.1 1194.9 468.3 1199.9 480.6 1205.0 475.3 1210.0 392.3 1215.0 400.6 1220.1 430.4 1225.1 452.1 1230.2 447.8 1235.2 424.9 1240.2 412.0 1245.3 402.8 1250.3 420.3 1255.4 442.9 1260.4 433.0 1265.5 433.9 1270.5 381.9 1275.5 397.0 1280.6 386.8 1285.6 298.5 1290.7 307.8 1295.7 287.2 1300.8 397.3 1305.8 401.5 1310.8 390.0 1315.9 386.9 1320.9 408.3 1326.0 408.3 1331.0 376.2 1336.0 361.6 1341.1 346.9 1346.1 342.2 1351.2 360.7 1356.2 353.8 1361.2 351.0 1366.3 334.3 1371.3 339.0 1376.4 328.0 1381.4 341.8 1386.5 363.9 1391.5 368.9 1396.5 401.5 1401.6 397.7 1406.6 402.7 1411.7 397.3 1416.7 369.5 1421.8 387.7 1426.8 396.0 1431.8 406.5 1436.9 390.6 1441.9 413.1 1447.0 343.1 1452.0 272.5 1457.0 279.8 1462.1 284.4 1467.1 344.5 1472.2 367.4 1477.2 386.2 1482.2 378.9 1487.3 369.7 1492.3 311.0 1497.4 265.8 1502.4 303.9 1507.5 261.9 1512.5 253.0 1517.5 295.0 1522.6 326.1 1527.6 339.4 1532.7 333.1 1537.7 409.6 1542.8 346.3 1547.8 337.2 1552.8 325.3 1557.9 359.2 1562.9 366.1 1568.0 368.5 1573.0 349.8 1578.0 355.6 1583.1 343.1 1588.1 332.9 1593.2 339.5 1598.2 332.6 1603.2 311.0 1608.3 268.3 1613.3 277.7 1618.4 262.2 1623.4 287.1 1628.5 260.6 1633.5 226.8 1638.5 232.8 1643.6 222.9 1648.6 230.1 1653.7 229.9 1658.7 282.0 1663.8 278.0 1668.8 265.1 1673.8 252.4 1678.9 266.1 1683.9 267.9 1689.0 268.4 1694.0 252.8 1699.0 273.9 1704.1 273.9 1709.1 265.1 1714.2 327.7 1719.2 292.7 1724.2 263.8 1729.3 257.4 1734.3 332.6 1739.4 346.3 1744.4 356.7 1749.5 347.5 1754.5 363.8 1759.5 383.0 1764.6 396.7 1769.6 368.3 1774.7 368.3 1779.7 354.3 1784.8 356.6 1789.8 352.3 1794.8 340.9 1799.9 356.0 1804.9 357.9 1810.0 314.2 1815.0 311.2 1820.0 353.6 1825.1 349.4 1830.1 353.0 1835.2 358.5 1840.2 360.4 1845.2 360.4 1850.3 359.4 1855.3 343.8 1860.4 353.9 1865.4 358.5 1870.5 362.6 1875.5 357.2 1880.5 366.6 1885.6 359.9 1890.6 353.9 1895.7 325.0 1900.7 311.2 1905.8 322.4 1910.8 296.6 1915.8 256.7 1920.9 247.0 1925.9 285.4 1931.0 279.2 1936.0 250.3 1941.0 265.6 1946.1 260.8 1951.1 243.9 1956.2 232.7 1961.2 241.8 1966.3 238.4 1971.3 337.0 1976.3 351.4 1981.4 338.4 1986.4 355.3 1991.5 364.9 1996.5 363.0 2001.5 394.8 2006.6 395.2 2011.6 398.2 2016.7 386.1 2021.7 380.1 2026.8 373.0 2031.8 388.6 2036.8 386.5 2041.9 385.6 2046.9 387.0 2052.0 397.8 2057.0 373.2 2062.0 389.4 2067.1 384.4 2072.1 416.8 2077.2 418.6 2082.2 418.6 2087.2 425.0 2092.3 432.8 2097.3 421.8 2102.4 461.6 2107.4 457.3 2112.5 457.9 2117.5 395.0 2122.5 436.5 2127.6 453.5 2132.6 461.2 2137.7 458.5 2142.7 455.8 2147.8 449.8 2152.8 452.9 2157.8 431.0 2162.9 430.1 2167.9 446.6 2173.0 457.4 2178.0 430.4 2183.0 462.8 2188.1 459.4 2193.1 452.3 2198.2 460.0 2203.2 446.1 2208.2 509.0 2213.3 511.2 2218.3 508.6 2223.4 510.5 2228.4 507.5 2233.5 493.8 2238.5 492.9 2243.5 511.3 2248.6 508.4 2253.6 508.4 2258.7 513.0 2263.7 616.9 2268.8 613.0 2273.8 555.2 2278.8 555.2 2283.9 598.3 2288.9 599.7 2294.0 581.8 2299.0 571.3 2304.0 603.9 2309.1 611.7 2314.1 614.9 2319.2 627.8 2324.2 621.7 2329.2 571.7 2334.3 564.9 2339.3 558.9 2344.4 487.8 2349.4 429.2 2354.5 431.4 2359.5 424.7 2364.5 425.3 2369.6 420.4 2374.6 424.5 2379.7 441.0 2384.7 451.7 2389.8 451.6 2394.8 494.7 2399.8 527.7 2404.9 534.8 2409.9 534.8 2415.0 543.3 2420.0 503.8 2425.0 541.5 2430.1 572.7 2435.1 609.4 2440.2 515.0 2445.2 517.6 2450.2 545.1 2455.3 571.3 2460.3 543.8 2465.4 532.8 2470.4 524.0 2475.5 529.1 2480.5 545.1 2485.5 569.5 2490.6 495.6 2495.6 554.3 2500.7 566.8 2505.7 560.3 2510.8 552.7 2515.8 565.8 2520.8 577.2 2525.9 964.2 2530.9 954.7 2536.0 922.6 2541.0 863.9 2546.0 973.0 2551.1 885.9 2556.1 864.3 2561.2 864.8 2566.2 843.7 2571.2 796.4 2576.3 728.5 2581.3 724.9 2586.4 710.6 2591.4 721.7 2596.5 727.2 2601.5 713.5 2606.5 722.3 2611.6 704.9 2616.6 735.9 2621.7 770.3 2626.7 803.3 2631.8 819.4 2636.8 854.7 2641.8 861.6 2646.9 863.1 2651.9 818.0 2657.0 813.4 2662.0 797.3 2667.0 765.7 2672.1 765.2 2677.1 756.1 2682.2 751.3 2687.2 758.9 2692.2 754.2 2697.3 726.2 2702.3 707.4 2707.4 737.6 2712.4 732.7 2717.5 757.4 2722.5 780.6 2727.5 762.0 2732.6 755.1 2737.6 718.4 2742.7 695.5 2747.7 689.5 2752.8 785.0 2757.8 789.5 2762.8 794.1 2767.9 814.8 2772.9 878.3 2778.0 872.7 2783.0 921.2 2788.0 921.7 2793.1 937.2 2798.1 944.4 2803.2 901.9 2808.2 814.8 2813.2 752.8 2818.3 739.1 2823.3 661.7 2828.4 662.0 2833.4 709.8 2838.5 697.8 2843.5 619.4 2848.5 639.1 2853.6 712.9 2858.6 652.3 2863.7 655.6 2868.7 678.9 2873.8 655.0 2878.8 680.8 2883.8 678.2 2888.9 720.7 2893.9 851.1 2899.0 867.2 2904.0 924.5 2909.0 929.1 2914.1 969.1 2919.1 921.1 2924.2 960.9 2929.2 919.9 2934.2 914.5 2939.3 936.5 2944.3 936.0 2949.4 936.0 2954.4 938.3 2959.5 960.7 2964.5 847.9 2969.5 922.2 2974.6 965.2 2979.6 964.5 2984.7 968.8 2989.7 907.4 2994.8 936.0 2999.8 960.3 3004.8 967.2 3009.9 971.3 3014.9 987.3 3020.0 981.8 3025.0 918.6 3030.0 945.1 3035.1 991.6 3040.1 986.8 3045.2 990.7 3050.2 987.2 3055.2 999.3 3060.3 1019.1 3065.3 1012.7 3070.4 1020.4 3075.4 1018.5 3080.5 1018.1 3085.5 1009.4 3090.5 1031.4 3095.6 1033.1 3100.6 1018.8 3105.7 1019.0 3110.7 1034.6 3115.8 1048.3 3120.8 1051.5 3125.8 1043.9 3130.9 1052.0 3135.9 1042.5 3141.0 1048.1 3146.0 1023.0 3151.0 1047.4 3156.1 1048.7 3161.1 1046.5 3166.2 1054.1 3171.2 1046.5 3176.2 1098.8 3181.3 1109.7 3186.3 1107.1 3191.4 1107.1 3196.4 1081.7 3201.5 1085.5 3206.5 1088.3 3211.5 1091.5 3216.6 1092.8 3221.6 1102.4 3226.7 1090.0 3231.7 1098.5 3236.8 1085.5 3241.8 1094.1 3246.8 1071.3 3251.9 1066.7 3256.9 1041.8 3262.0 1047.4 3267.0 894.0 3272.0 911.7 3277.1 932.8 3282.1 977.2 3287.2 1020.8 3292.2 1045.1 3297.2 1055.2 3302.3 1058.9 3307.3 1062.1 3312.4 1076.8 3317.4 1078.6 3322.5 1083.2 3327.5 936.0 3332.5 850.2 3337.6 938.3 3342.6 971.7 3347.7 998.8 3352.7 1061.0 3357.8 1041.6 3362.8 1045.1 3367.8 1048.3 3372.9 1055.3 3377.9 1021.3 3383.0 1052.0 3388.0 896.1 3393.0 884.7 3398.1 907.1 3403.1 1002.5 3408.2 1043.8 3413.2 1048.6 3418.2 1041.5 3423.3 1034.4 3428.3 1043.1 3433.4 1027.7 3438.4 1012.1 3443.5 1039.2 3448.5 1066.7 3453.5 1087.3 3458.6 1089.9 3463.6 1073.6 3468.7 1062.7 3473.7 1095.1 3478.8 1097.3 3483.8 1095.8 3488.8 1099.7 3493.9 1100.5 3498.9 1098.3 3504.0 1098.3 3509.0 1101.6 3514.0 1102.5 3519.1 1101.8 3524.1 1106.6 3529.2 1116.7 3534.2 1119.8 3539.2 1118.1 3544.3 1116.2 3549.3 1113.5 3554.4 1112.7 3559.4 1115.8 3564.5 1119.7 3569.5 950.6 3574.5 983.2 3579.6 1016.2 3584.6 1049.3 3589.7 1081.4" fill="none" stroke="#26c953" stroke-width="3.1" stroke-linejoin="bevel" stroke-linecap="butt"/>
<path d="M3.65 370.10L5.0 368.0L6.01 365.71M9.09 358.79L10.1 356.5L11.23 358.73M13.97 364.17L15.1 366.4L17.16 364.99M18.14 364.31L20.2 362.9L21.01 360.53M24.39 350.67L25.2 348.3L26.72 346.32M28.68 343.78L30.2 341.8L30.37 339.31M35.13 270.89L35.3 268.4L36.05 266.02M39.55 254.88L40.3 252.5L42.67 253.29M43.03 253.41L45.4 254.2L45.77 256.67M50.03 285.23L50.4 287.7L50.94 290.14M54.96 308.16L55.5 310.6L57.61 309.25M58.39 308.75L60.5 307.4L63.00 307.40M63.00 307.40L65.5 307.4L67.43 308.99M68.67 310.01L70.6 311.6L71.29 314.00M74.91 326.60L75.6 329.0L76.40 326.63M79.90 316.27L80.7 313.9L82.11 311.84M84.29 308.66L85.7 306.6L86.66 308.91M89.84 316.49L90.8 318.8L91.92 316.56M94.68 311.04L95.8 308.8L96.21 306.33M100.39 280.97L100.8 278.5L101.16 276.03M105.54 246.07L105.9 243.6L106.21 246.08M110.59 280.62L110.9 283.1L111.01 285.60M120.82 331.49L121.0 329.0L121.19 326.51M125.81 266.39L126.0 263.9L128.23 262.76M128.87 262.44L131.1 261.3L131.30 263.79M135.90 319.61L136.1 322.1L136.33 324.59M140.97 374.71L141.2 377.2L141.59 379.67M145.81 406.03L146.2 408.5L146.34 406.00M151.06 322.30L151.2 319.8L151.39 317.31M156.11 255.79L156.3 253.3L156.68 250.83M160.92 223.57L161.3 221.1L161.45 223.60M171.31 166.40L171.4 163.9L171.72 161.42M176.18 127.38L176.5 124.9L176.81 122.42M181.19 86.88L181.5 84.4L183.87 85.20M184.13 85.30L186.5 86.1L187.02 83.66M191.08 64.74L191.6 62.3L191.68 64.80M206.39 157.22L206.7 159.7L206.98 157.22M211.52 117.28L211.8 114.8L212.80 112.51M215.80 105.59L216.8 103.3L217.35 100.86M221.25 83.54L221.8 81.1L224.13 82.01M224.57 82.19L226.9 83.1L227.73 85.46M231.07 94.94L231.9 97.3L232.61 99.70M236.29 112.10L237.0 114.5L238.80 112.77M240.20 111.43L242.0 109.7L243.19 111.90M245.81 116.70L247.0 118.9L247.17 121.39M251.93 193.51L252.1 196.0L252.71 198.42M256.49 213.48L257.1 215.9L257.24 213.40M267.08 226.00L267.2 228.5L267.83 226.08M271.57 211.82L272.2 209.4L273.57 211.49M275.93 215.11L277.3 217.2L279.12 215.49M280.48 214.21L282.3 212.5L282.78 214.95M286.92 236.15L287.4 238.6L288.75 240.70M291.05 244.30L292.4 246.4L294.88 246.74M295.02 246.76L297.5 247.1L298.94 245.06M301.06 242.04L302.5 240.0L304.68 241.22M305.32 241.58L307.5 242.8L307.74 245.29M322.48 284.51L322.7 287.0L324.00 284.87M326.40 280.93L327.7 278.8L329.06 280.90M331.44 284.60L332.8 286.7L333.20 284.23M337.40 258.07L337.8 255.6L337.96 253.11M342.64 180.09L342.8 177.6L342.98 175.11M352.72 177.21L352.9 179.7L354.41 177.71M356.49 174.99L358.0 173.0L358.74 170.61M362.26 159.29L363.0 156.9L364.16 159.11M366.84 164.19L368.0 166.4L370.06 164.99M371.04 164.31L373.1 162.9L374.39 160.76M376.81 156.74L378.1 154.6L378.28 157.09M383.02 221.01L383.2 223.5L383.39 225.99M388.01 287.51L388.2 290.0L388.49 292.48M392.91 330.12L393.2 332.6L393.89 330.20M397.61 317.10L398.3 314.7L400.79 314.95M400.81 314.95L403.3 315.2L403.75 317.66M407.95 340.34L408.4 342.8L408.77 345.27M413.03 373.33L413.4 375.8L415.48 377.19M416.42 377.81L418.5 379.2L418.87 376.73M423.13 348.37L423.5 345.9L423.72 348.39M428.28 399.91L428.5 402.4L430.73 403.54M431.37 403.86L433.6 405.0L433.69 402.50M443.60 391.60L443.7 394.1L444.39 396.50M448.01 409.10L448.7 411.5L448.82 409.00M453.68 308.60L453.8 306.1L453.99 303.61M458.61 243.39L458.8 240.9L459.99 238.70M462.61 233.90L463.8 231.7L464.11 229.22M468.59 193.98L468.9 191.5L469.39 193.95M473.41 214.15L473.9 216.6L474.56 219.01M478.34 232.79L479.0 235.2L479.18 232.71M488.83 234.71L489.0 237.2L490.23 239.38M492.87 244.02L494.1 246.2L495.19 243.95M498.01 238.15L499.1 235.9L501.25 234.63M502.05 234.17L504.2 232.9L504.43 235.39M508.97 283.81L509.2 286.3L509.44 283.81M513.96 237.49L514.2 235.0L516.24 236.44M517.26 237.16L519.3 238.6L521.73 239.18M521.87 239.22L524.3 239.8L524.59 237.32M529.11 198.48L529.4 196.0L530.06 193.59M533.74 180.01L534.4 177.6L535.27 175.26M538.63 166.24L539.5 163.9L539.93 161.44M544.07 137.46L544.5 135.0L546.41 133.39M547.59 132.41L549.5 130.8L551.60 129.44M552.50 128.86L554.6 127.5L554.85 129.99M559.35 175.11L559.6 177.6L559.92 180.08M564.38 214.12L564.7 216.6L565.16 219.06M569.24 240.64L569.7 243.1L570.69 240.81M573.81 233.59L574.8 231.3L576.75 232.86M577.85 233.74L579.8 235.3L580.58 232.92M584.02 222.38L584.8 220.0L587.17 220.79M587.53 220.91L589.9 221.7L592.01 223.05M592.79 223.55L594.9 224.9L597.33 225.47M597.57 225.53L600.0 226.1L600.44 223.64M604.56 200.76L605.0 198.3L605.91 195.97M609.09 187.83L610.0 185.5L610.87 187.84M614.23 196.86L615.1 199.2L615.68 201.63M619.52 217.87L620.1 220.3L620.79 222.70M624.51 235.80L625.2 238.2L627.69 238.40M627.71 238.40L630.2 238.6L631.45 240.77M633.95 245.13L635.2 247.3L635.56 249.77M639.94 280.23L640.3 282.7L642.00 280.87M643.60 279.13L645.3 277.3L646.34 279.57M649.36 286.13L650.4 288.4L650.62 285.91M655.18 235.19L655.4 232.7L655.85 230.24M660.05 207.56L660.5 205.1L661.05 202.66M664.95 185.54L665.5 183.1L667.89 182.38M668.11 182.32L670.5 181.6L670.81 184.08M675.29 219.72L675.6 222.2L676.63 219.92M679.57 213.38L680.6 211.1L682.62 209.63M683.68 208.87L685.7 207.4L685.95 209.89M690.45 254.01L690.7 256.5L691.35 258.91M695.15 272.89L695.8 275.3L698.07 276.34M698.53 276.56L700.8 277.6L701.18 280.07M705.42 307.23L705.8 309.7L706.11 312.18M710.59 348.52L710.9 351.0L711.71 353.37M715.09 363.33L715.9 365.7L716.14 368.19M730.90 357.20L731.0 359.7L732.08 361.95M735.02 368.05L736.1 370.3L736.27 372.79M740.93 442.11L741.1 444.6L741.44 442.12M745.86 409.48L746.2 407.0L746.29 404.50M751.11 268.20L751.2 265.7L752.01 263.33M755.39 253.37L756.2 251.0L756.58 248.53M760.92 220.47L761.3 218.0L761.59 215.52M766.01 177.78L766.3 175.3L766.82 177.74M770.88 196.76L771.4 199.2L771.47 201.70M776.33 370.40L776.4 372.9L777.85 370.86M780.05 367.74L781.5 365.7L783.34 364.01M784.66 362.79L786.5 361.1L787.61 358.86M790.39 353.24L791.5 351.0L792.04 348.56M796.06 330.44L796.6 328.0L796.84 330.49M801.36 377.71L801.6 380.2L802.13 377.76M806.17 358.94L806.7 356.5L808.54 354.81M809.86 353.59L811.7 351.9L812.49 349.53M816.01 338.87L816.8 336.5L818.37 338.45M820.23 340.75L821.8 342.7L822.61 340.34M825.99 330.56L826.8 328.2L827.09 330.68M831.61 369.92L831.9 372.4L832.91 370.11M835.89 363.39L836.9 361.1L837.85 358.79M841.05 351.01L842.0 348.7L843.68 346.85M845.32 345.05L847.0 343.2L847.48 340.75M851.52 320.35L852.0 317.9L853.91 319.51M855.19 320.59L857.1 322.2L857.57 319.74M861.63 298.46L862.1 296.0L863.36 293.84M865.94 289.46L867.2 287.3L869.47 288.34M869.93 288.56L872.2 289.6L872.66 287.14M876.74 265.36L877.2 262.9L879.24 261.46M880.26 260.74L882.3 259.3L882.43 261.80M892.05 324.08L892.4 321.6L893.11 324.00M896.69 336.10L897.4 338.5L898.66 336.34M901.24 331.96L902.5 329.8L903.40 332.13M906.60 340.47L907.5 342.8L908.50 340.51M911.50 333.59L912.5 331.3L914.30 329.57M915.80 328.13L917.6 326.4L918.44 328.76M921.76 338.14L922.6 340.5L925.06 340.93M925.24 340.97L927.7 341.4L930.16 340.96M930.24 340.94L932.7 340.5L933.94 338.33M936.56 333.77L937.8 331.6L940.28 331.90M940.32 331.90L942.8 332.2L945.26 332.64M945.34 332.66L947.8 333.1L949.86 334.51M950.84 335.19L952.9 336.6L955.10 335.41M955.70 335.09L957.9 333.9L959.67 335.67M961.23 337.23L963.0 339.0L963.14 336.50M967.86 251.20L968.0 248.7L969.09 250.95M971.91 256.75L973.0 259.0L973.89 256.66M977.21 247.94L978.1 245.6L979.58 247.61M981.62 250.39L983.1 252.4L984.16 254.66M987.14 261.04L988.2 263.3L989.22 261.02M992.18 254.38L993.2 252.1L994.85 253.98M996.65 256.02L998.3 257.9L999.71 259.96M1001.89 263.14L1003.3 265.2L1005.41 263.85M1006.19 263.35L1008.3 262.0L1010.61 261.05M1011.09 260.85L1013.4 259.9L1014.17 262.28M1017.63 272.92L1018.4 275.3L1019.47 273.04M1022.43 266.76L1023.5 264.5L1024.72 266.68M1027.28 271.22L1028.5 273.4L1029.39 271.06M1032.61 262.54L1033.5 260.2L1034.25 257.82M1037.85 246.48L1038.6 244.1L1039.67 246.36M1042.53 252.44L1043.6 254.7L1043.70 257.20M1053.57 285.60L1053.7 283.1L1056.03 282.19M1056.47 282.01L1058.8 281.1L1059.48 283.50M1063.12 296.30L1063.8 298.7L1064.09 301.18M1068.51 338.42L1068.8 340.9L1069.50 343.30M1073.20 355.90L1073.9 358.3L1074.10 360.79M1078.70 418.71L1078.9 421.2L1078.98 423.70M1083.92 581.50L1084.0 584.0L1084.43 586.46M1088.57 610.24L1089.0 612.7L1089.27 610.21M1093.73 569.09L1094.0 566.6L1095.05 564.33M1098.05 557.87L1099.1 555.6L1099.33 553.11M1103.87 503.09L1104.1 500.6L1105.59 498.59M1107.71 495.71L1109.2 493.7L1109.28 491.20M1114.12 335.60L1114.2 333.1L1115.48 330.95M1117.92 326.85L1119.2 324.7L1119.28 327.20M1124.22 472.50L1124.3 475.0L1126.69 474.28M1126.91 474.22L1129.3 473.5L1130.72 471.44M1132.98 468.16L1134.4 466.1L1136.86 465.66M1136.94 465.64L1139.4 465.2L1141.61 464.03M1142.29 463.67L1144.5 462.5L1144.70 460.01M1154.31 463.41L1154.5 465.9L1156.17 464.04M1157.93 462.06L1159.6 460.2L1161.78 458.98M1162.42 458.62L1164.6 457.4L1166.33 455.60M1167.97 453.90L1169.7 452.1L1170.71 454.39M1173.69 461.11L1174.7 463.4L1175.34 465.82M1179.16 480.28L1179.8 482.7L1181.30 480.70M1183.30 478.00L1184.8 476.0L1186.55 477.79M1188.05 479.31L1189.8 481.1L1190.73 478.78M1193.97 470.62L1194.9 468.3L1195.84 470.62M1198.96 478.28L1199.9 480.6L1201.63 478.80M1203.27 477.10L1205.0 475.3L1205.15 472.80M1209.85 394.80L1210.0 392.3L1211.29 394.44M1213.71 398.46L1215.0 400.6L1215.42 403.06M1219.68 427.94L1220.1 430.4L1220.66 432.84M1224.54 449.66L1225.1 452.1L1227.01 450.49M1228.29 449.41L1230.2 447.8L1230.73 445.36M1234.67 427.34L1235.2 424.9L1236.10 422.57M1239.30 414.33L1240.2 412.0L1241.41 409.81M1244.09 404.99L1245.3 402.8L1245.99 405.20M1249.61 417.90L1250.3 420.3L1250.85 422.74M1254.85 440.46L1255.4 442.9L1256.53 440.67M1259.27 435.23L1260.4 433.0L1262.86 433.43M1263.04 433.47L1265.5 433.9L1265.74 431.41M1270.26 384.39L1270.5 381.9L1271.29 384.27M1274.71 394.63L1275.5 397.0L1276.62 394.76M1279.48 389.04L1280.6 386.8L1280.74 384.30M1285.46 301.00L1285.6 298.5L1286.80 300.69M1289.50 305.61L1290.7 307.8L1291.29 305.37M1295.11 289.63L1295.7 287.2L1295.82 289.70M1300.68 394.80L1300.8 397.3L1302.71 398.91M1303.89 399.89L1305.8 401.5L1306.80 399.21M1309.80 392.29L1310.8 390.0L1312.94 388.70M1313.76 388.20L1315.9 386.9L1316.47 389.33M1320.33 405.87L1320.9 408.3L1323.40 408.30M1323.50 408.30L1326.0 408.3L1326.38 405.83M1330.62 378.67L1331.0 376.2L1331.81 373.83M1335.19 363.97L1336.0 361.6L1336.82 359.24M1340.28 349.26L1341.1 346.9L1342.92 345.19M1344.28 343.91L1346.1 342.2L1346.76 344.61M1350.54 358.29L1351.2 360.7L1352.67 358.68M1354.73 355.82L1356.2 353.8L1358.38 352.58M1359.02 352.22L1361.2 351.0L1361.93 348.61M1365.57 336.69L1366.3 334.3L1368.12 336.01M1369.48 337.29L1371.3 339.0L1372.35 336.73M1375.35 330.27L1376.4 328.0L1377.25 330.35M1380.55 339.45L1381.4 341.8L1381.96 344.24M1385.94 361.46L1386.5 363.9L1388.27 365.67M1389.73 367.13L1391.5 368.9L1391.88 371.37M1396.12 399.03L1396.5 401.5L1398.50 400.01M1399.60 399.19L1401.6 397.7L1403.37 399.47M1404.83 400.93L1406.6 402.7L1408.32 400.88M1409.98 399.12L1411.7 397.3L1412.14 394.84M1416.26 371.96L1416.7 369.5L1417.37 371.91M1421.13 385.29L1421.8 387.7L1423.09 389.84M1425.51 393.86L1426.8 396.0L1427.87 398.26M1430.73 404.24L1431.8 406.5L1432.56 404.12M1436.14 392.98L1436.9 390.6L1437.44 393.04M1441.36 410.66L1441.9 413.1L1442.08 410.61M1446.82 345.59L1447.0 343.1L1447.18 340.61M1451.82 274.99L1452.0 272.5L1453.41 274.56M1455.59 277.74L1457.0 279.8L1458.86 281.47M1460.24 282.73L1462.1 284.4L1462.31 286.89M1466.89 342.01L1467.1 344.5L1467.64 346.94M1471.66 364.96L1472.2 367.4L1472.84 369.82M1476.56 383.78L1477.2 386.2L1478.61 384.14M1480.79 380.96L1482.2 378.9L1483.41 376.71M1486.09 371.89L1487.3 369.7L1487.51 367.21M1492.09 313.49L1492.3 311.0L1492.58 308.52M1497.12 268.28L1497.4 265.8L1497.73 268.28M1502.07 301.42L1502.4 303.9L1502.70 301.42M1507.20 264.38L1507.5 261.9L1508.72 259.72M1511.28 255.18L1512.5 253.0L1512.80 255.48M1517.20 292.52L1517.5 295.0L1517.90 297.47M1522.20 323.63L1522.6 326.1L1523.48 328.44M1526.72 337.06L1527.6 339.4L1529.17 337.46M1531.13 335.04L1532.7 333.1L1532.86 335.59M1542.60 348.79L1542.8 346.3L1544.00 344.11M1546.60 339.39L1547.8 337.2L1548.77 334.90M1551.83 327.60L1552.8 325.3L1553.17 327.77M1557.53 356.73L1557.9 359.2L1559.37 361.22M1561.43 364.08L1562.9 366.1L1565.16 367.16M1565.74 367.44L1568.0 368.5L1568.65 366.08M1572.35 352.22L1573.0 349.8L1574.63 351.69M1576.37 353.71L1578.0 355.6L1578.94 353.29M1582.16 345.41L1583.1 343.1L1584.20 340.86M1587.00 335.14L1588.1 332.9L1589.63 334.88M1591.67 337.52L1593.2 339.5L1594.67 337.48M1596.73 334.62L1598.2 332.6L1598.76 330.16M1602.64 313.44L1603.2 311.0L1603.50 308.52M1608.00 270.78L1608.3 268.3L1609.47 270.51M1612.13 275.49L1613.3 277.7L1614.08 275.33M1617.62 264.57L1618.4 262.2L1618.89 264.65M1622.91 284.65L1623.4 287.1L1623.87 284.65M1628.03 263.05L1628.5 260.6L1628.87 258.13M1633.13 229.27L1633.5 226.8L1635.10 228.72M1636.90 230.88L1638.5 232.8L1639.64 230.58M1642.46 225.12L1643.6 222.9L1645.03 224.95M1647.17 228.05L1648.6 230.1L1651.10 230.00M1651.20 230.00L1653.7 229.9L1653.94 232.39M1658.46 279.51L1658.7 282.0L1660.67 280.46M1661.83 279.54L1663.8 278.0L1664.70 275.67M1667.90 267.43L1668.8 265.1L1669.72 262.77M1672.88 254.73L1673.8 252.4L1674.67 254.74M1678.03 263.76L1678.9 266.1L1681.25 266.95M1681.55 267.05L1683.9 267.9L1686.39 268.14M1686.51 268.16L1689.0 268.4L1689.76 266.02M1693.24 255.18L1694.0 252.8L1694.58 255.23M1698.42 271.47L1699.0 273.9L1701.50 273.90M1701.60 273.90L1704.1 273.9L1705.34 271.73M1707.86 267.27L1709.1 265.1L1709.30 267.59M1714.00 325.21L1714.2 327.7L1714.55 325.23M1718.85 295.17L1719.2 292.7L1719.63 290.24M1723.77 266.26L1724.2 263.8L1725.76 261.84M1727.74 259.36L1729.3 257.4L1729.47 259.89M1734.13 330.11L1734.3 332.6L1735.17 334.94M1738.53 343.96L1739.4 346.3L1740.48 348.55M1743.32 354.45L1744.4 356.7L1745.61 354.51M1748.29 349.69L1749.5 347.5L1750.23 349.89M1753.77 361.41L1754.5 363.8L1755.13 366.22M1758.87 380.58L1759.5 383.0L1760.37 385.34M1763.73 394.36L1764.6 396.7L1765.03 394.24M1769.17 370.76L1769.6 368.3L1772.10 368.30M1772.20 368.30L1774.7 368.3L1775.54 365.95M1778.86 356.65L1779.7 354.3L1781.98 355.33M1782.52 355.57L1784.8 356.6L1786.70 354.97M1787.90 353.93L1789.8 352.3L1790.80 350.01M1793.80 343.19L1794.8 340.9L1795.60 343.27M1799.10 353.63L1799.9 356.0L1802.24 356.89M1802.56 357.01L1804.9 357.9L1805.19 355.42M1809.71 316.68L1810.0 314.2L1812.14 312.91M1812.86 312.49L1815.0 311.2L1815.29 313.68M1819.71 351.12L1820.0 353.6L1821.93 352.01M1823.17 350.99L1825.1 349.4L1827.13 350.86M1828.07 351.54L1830.1 353.0L1831.80 354.83M1833.50 356.67L1835.2 358.5L1837.54 359.39M1837.86 359.51L1840.2 360.4L1842.70 360.40M1842.70 360.40L1845.2 360.4L1847.65 359.92M1847.85 359.88L1850.3 359.4L1851.06 357.02M1854.54 346.18L1855.3 343.8L1856.43 346.03M1859.27 351.67L1860.4 353.9L1862.24 355.59M1863.56 356.81L1865.4 358.5L1867.35 360.07M1868.55 361.03L1870.5 362.6L1872.20 360.77M1873.80 359.03L1875.5 357.2L1876.67 359.41M1879.33 364.39L1880.5 366.6L1882.01 364.61M1884.09 361.89L1885.6 359.9L1887.20 357.98M1889.00 355.82L1890.6 353.9L1891.03 351.44M1895.27 327.46L1895.7 325.0L1896.55 322.65M1899.85 313.55L1900.7 311.2L1901.74 313.48M1904.76 320.12L1905.8 322.4L1906.28 319.95M1910.32 299.05L1910.8 296.6L1911.11 294.12M1915.49 259.18L1915.8 256.7L1916.96 254.49M1919.74 249.21L1920.9 247.0L1921.22 249.48M1925.58 282.92L1925.9 285.4L1927.49 283.47M1929.41 281.13L1931.0 279.2L1931.43 276.74M1935.57 252.76L1936.0 250.3L1936.78 252.68M1940.22 263.22L1941.0 265.6L1942.82 263.89M1944.28 262.51L1946.1 260.8L1946.81 258.40M1950.39 246.30L1951.1 243.9L1952.14 241.62M1955.16 234.98L1956.2 232.7L1957.40 234.89M1960.00 239.61L1961.2 241.8L1963.28 240.41M1964.22 239.79L1966.3 238.4L1966.43 240.90M1971.17 334.50L1971.3 337.0L1972.12 339.36M1975.48 349.04L1976.3 351.4L1977.21 349.07M1980.49 340.73L1981.4 338.4L1982.11 340.80M1985.69 352.90L1986.4 355.3L1987.57 357.51M1990.33 362.69L1991.5 364.9L1993.84 364.01M1994.16 363.89L1996.5 363.0L1996.89 365.47M2001.11 392.33L2001.5 394.8L2003.99 395.00M2004.11 395.00L2006.6 395.2L2008.74 396.49M2009.46 396.91L2011.6 398.2L2012.57 395.90M2015.73 388.40L2016.7 386.1L2018.30 384.18M2020.10 382.02L2021.7 380.1L2023.16 378.07M2025.34 375.03L2026.8 373.0L2027.56 375.38M2031.04 386.22L2031.8 388.6L2034.10 387.63M2034.50 387.47L2036.8 386.5L2039.26 386.07M2039.44 386.03L2041.9 385.6L2044.31 386.27M2044.49 386.33L2046.9 387.0L2047.97 389.26M2050.93 395.54L2052.0 397.8L2052.50 395.35M2056.50 375.65L2057.0 373.2L2057.74 375.59M2061.26 387.01L2062.0 389.4L2063.79 387.65M2065.31 386.15L2067.1 384.4L2067.48 386.87M2071.72 414.33L2072.1 416.8L2074.46 417.63M2074.84 417.77L2077.2 418.6L2079.70 418.60M2079.70 418.60L2082.2 418.6L2083.74 420.57M2085.66 423.03L2087.2 425.0L2088.57 427.09M2090.93 430.71L2092.3 432.8L2093.33 430.52M2096.27 424.08L2097.3 421.8L2097.62 424.28M2102.08 459.12L2102.4 461.6L2104.30 459.97M2105.50 458.93L2107.4 457.3L2109.88 457.59M2110.02 457.61L2112.5 457.9L2112.70 455.41M2117.30 397.49L2117.5 395.0L2117.80 397.48M2122.20 434.02L2122.5 436.5L2123.22 438.89M2126.88 451.11L2127.6 453.5L2128.96 455.60M2131.24 459.10L2132.6 461.2L2134.81 460.03M2135.49 459.67L2137.7 458.5L2139.90 457.31M2140.50 456.99L2142.7 455.8L2144.32 453.90M2146.18 451.70L2147.8 449.8L2149.92 451.12M2150.68 451.58L2152.8 452.9L2153.36 450.46M2157.24 433.44L2157.8 431.0L2160.26 430.57M2160.44 430.53L2162.9 430.1L2163.63 432.49M2167.17 444.21L2167.9 446.6L2168.97 448.86M2171.93 455.14L2173.0 457.4L2173.46 454.94M2177.54 432.86L2178.0 430.4L2178.38 432.87M2182.62 460.33L2183.0 462.8L2185.08 461.41M2186.02 460.79L2188.1 459.4L2189.54 457.36M2191.66 454.34L2193.1 452.3L2194.48 454.38M2196.82 457.92L2198.2 460.0L2199.05 457.65M2202.35 448.45L2203.2 446.1L2203.40 448.59M2208.00 506.51L2208.2 509.0L2210.50 509.99M2211.00 510.21L2213.3 511.2L2215.52 510.05M2216.08 509.75L2218.3 508.6L2220.64 509.47M2221.06 509.63L2223.4 510.5L2225.54 509.21M2226.26 508.79L2228.4 507.5L2229.27 505.16M2232.63 496.14L2233.5 493.8L2235.96 493.36M2236.04 493.34L2238.5 492.9L2239.16 495.31M2242.84 508.89L2243.5 511.3L2245.67 510.06M2246.43 509.64L2248.6 508.4L2251.10 508.40M2251.10 508.40L2253.6 508.4L2255.46 510.07M2256.84 511.33L2258.7 513.0L2258.82 515.50M2263.58 614.40L2263.7 616.9L2265.69 615.38M2266.81 614.52L2268.8 613.0L2269.02 610.51M2273.58 557.69L2273.8 555.2L2276.30 555.20M2276.30 555.20L2278.8 555.2L2279.09 557.68M2283.61 595.82L2283.9 598.3L2286.31 598.97M2286.49 599.03L2288.9 599.7L2289.59 597.30M2293.31 584.20L2294.0 581.8L2295.07 579.54M2297.93 573.56L2299.0 571.3L2299.38 573.77M2303.62 601.43L2304.0 603.9L2305.37 605.99M2307.73 609.61L2309.1 611.7L2311.21 613.05M2311.99 613.55L2314.1 614.9L2315.02 617.22M2318.28 625.48L2319.2 627.8L2320.78 625.87M2322.62 623.63L2324.2 621.7L2324.45 619.21M2328.95 574.19L2329.2 571.7L2330.70 569.70M2332.80 566.90L2334.3 564.9L2335.90 562.98M2337.70 560.82L2339.3 558.9L2339.48 556.41M2344.22 490.29L2344.4 487.8L2344.61 485.31M2349.19 431.69L2349.4 429.2L2351.70 430.19M2352.20 430.41L2354.5 431.4L2356.00 429.40M2358.00 426.70L2359.5 424.7L2361.98 425.00M2362.02 425.00L2364.5 425.3L2366.30 423.57M2367.80 422.13L2369.6 420.4L2371.53 421.99M2372.67 422.91L2374.6 424.5L2375.34 426.89M2378.96 438.61L2379.7 441.0L2380.76 443.26M2383.64 449.44L2384.7 451.7L2387.20 451.65M2387.30 451.65L2389.8 451.6L2390.09 454.08M2394.51 492.22L2394.8 494.7L2395.17 497.17M2399.43 525.23L2399.8 527.7L2401.26 529.73M2403.44 532.77L2404.9 534.8L2407.40 534.80M2407.40 534.80L2409.9 534.8L2411.19 536.94M2413.71 541.16L2415.0 543.3L2415.31 540.82M2419.69 506.28L2420.0 503.8L2420.33 506.28M2424.67 539.02L2425.0 541.5L2425.40 543.97M2429.70 570.23L2430.1 572.7L2430.44 575.18M2440.07 517.50L2440.2 515.0L2442.42 516.15M2442.98 516.45L2445.2 517.6L2445.65 520.06M2449.75 542.64L2450.2 545.1L2450.68 547.55M2454.82 568.85L2455.3 571.3L2455.75 568.84M2459.85 546.26L2460.3 543.8L2461.35 541.53M2464.35 535.07L2465.4 532.8L2466.64 530.63M2469.16 526.17L2470.4 524.0L2472.17 525.77M2473.73 527.33L2475.5 529.1L2476.25 531.49M2479.75 542.71L2480.5 545.1L2481.00 547.55M2485.00 567.05L2485.5 569.5L2485.67 567.01M2495.39 551.81L2495.6 554.3L2496.54 556.61M2499.76 564.49L2500.7 566.8L2502.22 564.82M2504.18 562.28L2505.7 560.3L2507.09 558.22M2509.41 554.78L2510.8 552.7L2511.69 555.04M2514.91 563.46L2515.8 565.8L2516.80 568.09M2519.80 574.91L2520.8 577.2L2520.83 579.70M2525.87 961.70L2525.9 964.2L2527.06 961.99M2529.74 956.91L2530.9 954.7L2531.29 952.23M2535.61 925.07L2536.0 922.6L2536.21 920.11M2550.95 888.40L2551.1 885.9L2551.66 883.46M2555.54 866.74L2556.1 864.3L2558.59 864.54M2558.71 864.56L2561.2 864.8L2561.78 862.37M2565.62 846.13L2566.2 843.7L2566.46 841.21M2570.94 798.89L2571.2 796.4L2571.39 793.91M2576.11 730.99L2576.3 728.5L2578.33 727.04M2579.27 726.36L2581.3 724.9L2582.14 722.55M2585.56 712.95L2586.4 710.6L2587.43 712.88M2590.37 719.42L2591.4 721.7L2593.10 723.53M2594.80 725.37L2596.5 727.2L2597.36 724.85M2600.64 715.85L2601.5 713.5L2602.74 715.67M2605.26 720.13L2606.5 722.3L2607.20 719.90M2610.90 707.30L2611.6 704.9L2612.00 707.37M2616.20 733.43L2616.6 735.9L2616.97 738.37M2621.33 767.83L2621.7 770.3L2622.07 772.77M2626.33 800.83L2626.7 803.3L2627.45 805.68M2631.05 817.02L2631.8 819.4L2632.15 821.88M2636.45 852.22L2636.8 854.7L2638.27 856.72M2640.33 859.58L2641.8 861.6L2644.20 862.31M2644.50 862.39L2646.9 863.1L2647.18 860.62M2651.62 820.48L2651.9 818.0L2653.76 816.33M2655.14 815.07L2657.0 813.4L2657.74 811.01M2661.26 799.69L2662.0 797.3L2662.39 794.83M2666.61 768.17L2667.0 765.7L2669.49 765.46M2669.61 765.44L2672.1 765.2L2673.30 763.01M2675.90 758.29L2677.1 756.1L2678.92 754.39M2680.38 753.01L2682.2 751.3L2683.57 753.39M2685.83 756.81L2687.2 758.9L2689.02 757.19M2690.38 755.91L2692.2 754.2L2692.65 751.74M2696.85 728.66L2697.3 726.2L2697.94 723.78M2701.66 709.82L2702.3 707.4L2702.72 709.87M2706.98 735.13L2707.4 737.6L2709.19 735.85M2710.61 734.45L2712.4 732.7L2712.91 735.15M2716.99 754.95L2717.5 757.4L2718.03 759.84M2721.97 778.16L2722.5 780.6L2723.15 778.19M2726.85 764.41L2727.5 762.0L2728.99 759.99M2731.11 757.11L2732.6 755.1L2732.94 752.62M2737.26 720.88L2737.6 718.4L2738.14 715.96M2742.16 697.94L2742.7 695.5L2744.30 693.58M2746.10 691.42L2747.7 689.5L2747.83 692.00M2752.67 782.50L2752.8 785.0L2754.66 786.67M2755.94 787.83L2757.8 789.5L2759.64 791.19M2760.96 792.41L2762.8 794.1L2763.40 796.53M2767.30 812.37L2767.9 814.8L2768.10 817.29M2772.70 875.81L2772.9 878.3L2774.58 876.45M2776.32 874.55L2778.0 872.7L2778.26 875.19M2782.74 918.71L2783.0 921.2L2785.49 921.45M2785.51 921.45L2788.0 921.7L2788.78 924.07M2792.32 934.83L2793.1 937.2L2794.53 939.25M2796.67 942.35L2798.1 944.4L2798.40 941.92M2802.90 904.38L2803.2 901.9L2803.34 899.40M2808.06 817.30L2808.2 814.8L2808.40 812.31M2813.00 755.29L2813.2 752.8L2814.07 750.46M2817.43 741.44L2818.3 739.1L2818.46 736.61M2823.14 664.19L2823.3 661.7L2825.80 661.85M2825.90 661.85L2828.4 662.0L2828.66 664.49M2833.14 707.31L2833.4 709.8L2834.38 707.50M2837.52 700.10L2838.5 697.8L2838.66 695.31M2843.34 621.89L2843.5 619.4L2844.12 621.82M2847.88 636.68L2848.5 639.1L2848.67 641.59M2858.39 654.79L2858.6 652.3L2860.70 653.66M2861.60 654.24L2863.7 655.6L2864.22 658.04M2868.18 676.46L2868.7 678.9L2869.22 676.46M2873.28 657.44L2873.8 655.0L2874.28 657.45M2878.32 678.35L2878.8 680.8L2881.02 679.65M2881.58 679.35L2883.8 678.2L2884.10 680.68M2888.60 718.22L2888.9 720.7L2889.00 723.20M2893.80 848.60L2893.9 851.1L2894.65 853.48M2898.25 864.82L2899.0 867.2L2899.22 869.69M2903.78 922.01L2904.0 924.5L2905.84 926.19M2907.16 927.41L2909.0 929.1L2909.32 931.58M2913.78 966.62L2914.1 969.1L2914.36 966.61M2918.84 923.59L2919.1 921.1L2919.42 923.58M2923.88 958.42L2924.2 960.9L2924.50 958.42M2928.90 922.38L2929.2 919.9L2930.90 918.07M2932.50 916.33L2934.2 914.5L2934.76 916.94M2938.74 934.06L2939.3 936.5L2941.79 936.25M2941.81 936.25L2944.3 936.0L2946.80 936.00M2946.90 936.00L2949.4 936.0L2951.67 937.04M2952.13 937.26L2954.4 938.3L2954.95 940.74M2958.95 958.26L2959.5 960.7L2959.61 958.20M2969.33 919.71L2969.5 922.2L2969.79 924.68M2974.31 962.72L2974.6 965.2L2977.08 964.85M2977.12 964.85L2979.6 964.5L2981.51 966.11M2982.79 967.19L2984.7 968.8L2984.90 966.31M2989.50 909.89L2989.7 907.4L2990.14 909.86M2994.36 933.54L2994.8 936.0L2995.30 938.45M2999.30 957.85L2999.8 960.3L3001.27 962.32M3003.33 965.18L3004.8 967.2L3006.75 968.77M3007.95 969.73L3009.9 971.3L3010.65 973.69M3014.15 984.91L3014.9 987.3L3016.60 985.47M3018.30 983.63L3020.0 981.8L3020.20 979.31M3024.80 921.09L3025.0 918.6L3025.46 921.06M3029.54 942.64L3030.0 945.1L3030.27 947.59M3034.83 989.11L3035.1 991.6L3036.90 989.87M3038.30 988.53L3040.1 986.8L3042.09 988.32M3043.21 989.18L3045.2 990.7L3047.25 989.27M3048.15 988.63L3050.2 987.2L3051.15 989.51M3054.25 996.99L3055.2 999.3L3055.82 1001.72M3059.68 1016.68L3060.3 1019.1L3061.84 1017.13M3063.76 1014.67L3065.3 1012.7L3066.68 1014.78M3069.02 1018.32L3070.4 1020.4L3072.74 1019.51M3073.06 1019.39L3075.4 1018.5L3077.89 1018.30M3078.01 1018.30L3080.5 1018.1L3081.75 1015.93M3084.25 1011.57L3085.5 1009.4L3086.05 1011.84M3089.95 1028.96L3090.5 1031.4L3092.87 1032.19M3093.23 1032.31L3095.6 1033.1L3096.43 1030.74M3099.77 1021.16L3100.6 1018.8L3103.10 1018.90M3103.20 1018.90L3105.7 1019.0L3106.46 1021.38M3109.94 1032.22L3110.7 1034.6L3111.57 1036.94M3114.93 1045.96L3115.8 1048.3L3117.91 1049.65M3118.69 1050.15L3120.8 1051.5L3122.17 1049.41M3124.43 1045.99L3125.8 1043.9L3127.13 1046.02M3129.57 1049.88L3130.9 1052.0L3132.06 1049.79M3134.74 1044.71L3135.9 1042.5L3137.58 1044.35M3139.32 1046.25L3141.0 1048.1L3141.49 1045.65M3145.51 1025.45L3146.0 1023.0L3146.50 1025.45M3150.50 1044.95L3151.0 1047.4L3153.42 1048.02M3153.68 1048.08L3156.1 1048.7L3158.39 1047.69M3158.81 1047.51L3161.1 1046.5L3162.49 1048.58M3164.81 1052.02L3166.2 1054.1L3167.57 1052.01M3169.83 1048.59L3171.2 1046.5L3171.44 1048.99M3175.96 1096.31L3176.2 1098.8L3177.26 1101.06M3180.24 1107.44L3181.3 1109.7L3183.52 1108.55M3184.08 1108.25L3186.3 1107.1L3188.80 1107.10M3188.90 1107.10L3191.4 1107.1L3191.88 1104.65M3195.92 1084.15L3196.4 1081.7L3198.40 1083.19M3199.50 1084.01L3201.5 1085.5L3203.68 1086.72M3204.32 1087.08L3206.5 1088.3L3208.61 1089.65M3209.39 1090.15L3211.5 1091.5L3213.92 1092.12M3214.18 1092.18L3216.6 1092.8L3217.75 1095.02M3220.45 1100.18L3221.6 1102.4L3222.55 1100.09M3225.75 1092.31L3226.7 1090.0L3227.97 1092.15M3230.43 1096.35L3231.7 1098.5L3232.61 1096.17M3235.89 1087.83L3236.8 1085.5L3238.06 1087.66M3240.54 1091.94L3241.8 1094.1L3242.34 1091.66M3246.26 1073.74L3246.8 1071.3L3248.66 1069.63M3250.04 1068.37L3251.9 1066.7L3252.39 1064.25M3256.41 1044.25L3256.9 1041.8L3258.58 1043.65M3260.32 1045.55L3262.0 1047.4L3262.08 1044.90M3266.92 896.50L3267.0 894.0L3267.68 896.41M3271.32 909.29L3272.0 911.7L3272.59 914.13M3276.51 930.37L3277.1 932.8L3277.38 935.28M3281.82 974.72L3282.1 977.2L3282.39 979.68M3286.91 1018.32L3287.2 1020.8L3287.70 1023.25M3291.70 1042.65L3292.2 1045.1L3293.31 1047.34M3296.09 1052.96L3297.2 1055.2L3299.22 1056.67M3300.28 1057.43L3302.3 1058.9L3304.41 1060.25M3305.19 1060.75L3307.3 1062.1L3308.12 1064.46M3311.58 1074.44L3312.4 1076.8L3314.75 1077.65M3315.05 1077.75L3317.4 1078.6L3319.26 1080.27M3320.64 1081.53L3322.5 1083.2L3322.58 1080.70M3327.42 938.50L3327.5 936.0L3327.65 933.50M3337.46 935.80L3337.6 938.3L3337.97 940.77M3342.23 969.23L3342.6 971.7L3343.06 974.16M3347.24 996.34L3347.7 998.8L3347.90 1001.29M3352.50 1058.51L3352.7 1061.0L3353.34 1058.58M3357.16 1044.02L3357.8 1041.6L3359.85 1043.03M3360.75 1043.67L3362.8 1045.1L3364.91 1046.45M3365.69 1046.95L3367.8 1048.3L3369.27 1050.32M3371.43 1053.28L3372.9 1055.3L3373.26 1052.83M3377.54 1023.77L3377.9 1021.3L3378.31 1023.77M3382.59 1049.53L3383.0 1052.0L3383.08 1049.50M3387.92 898.60L3388.0 896.1L3389.00 893.81M3392.00 886.99L3393.0 884.7L3393.55 887.14M3397.55 904.66L3398.1 907.1L3398.23 909.60M3402.97 1000.00L3403.1 1002.5L3403.41 1004.98M3407.89 1041.32L3408.2 1043.8L3410.00 1045.53M3411.40 1046.87L3413.2 1048.6L3414.64 1046.56M3416.76 1043.54L3418.2 1041.5L3419.66 1039.47M3421.84 1036.43L3423.3 1034.4L3424.55 1036.57M3427.05 1040.93L3428.3 1043.1L3429.09 1040.73M3432.61 1030.07L3433.4 1027.7L3434.16 1025.32M3437.64 1014.48L3438.4 1012.1L3438.86 1014.56M3443.04 1036.74L3443.5 1039.2L3443.95 1041.66M3448.05 1064.24L3448.5 1066.7L3449.09 1069.13M3452.91 1084.87L3453.5 1087.3L3455.73 1088.44M3456.37 1088.76L3458.6 1089.9L3459.33 1087.51M3462.87 1075.99L3463.6 1073.6L3464.66 1071.34M3467.64 1064.96L3468.7 1062.7L3469.08 1065.17M3473.32 1092.63L3473.7 1095.1L3476.00 1096.09M3476.50 1096.31L3478.8 1097.3L3481.19 1096.58M3481.41 1096.52L3483.8 1095.8L3485.77 1097.34M3486.83 1098.16L3488.8 1099.7L3491.27 1100.09M3491.43 1100.11L3493.9 1100.5L3496.19 1099.49M3496.61 1099.31L3498.9 1098.3L3501.40 1098.30M3501.50 1098.30L3504.0 1098.3L3506.09 1099.68M3506.91 1100.22L3509.0 1101.6L3511.46 1102.04M3511.54 1102.06L3514.0 1102.5L3516.48 1102.16M3516.62 1102.14L3519.1 1101.8L3520.90 1103.53M3522.30 1104.87L3524.1 1106.6L3525.23 1108.83M3528.07 1114.47L3529.2 1116.7L3531.32 1118.02M3532.08 1118.48L3534.2 1119.8L3536.57 1119.00M3536.83 1118.90L3539.2 1118.1L3541.54 1117.23M3541.96 1117.07L3544.3 1116.2L3546.50 1115.01M3547.10 1114.69L3549.3 1113.5L3551.77 1113.11M3551.93 1113.09L3554.4 1112.7L3556.52 1114.02M3557.28 1114.48L3559.4 1115.8L3561.39 1117.32M3562.51 1118.18L3564.5 1119.7L3564.57 1117.20M3574.12 980.73L3574.5 983.2L3574.88 985.67M3579.22 1013.73L3579.6 1016.2L3579.97 1018.67M3584.23 1046.83L3584.6 1049.3L3584.99 1051.77" fill="none" stroke="#26c953" stroke-width="3.1" stroke-linejoin="miter" stroke-miterlimit="100" stroke-linecap="butt"/>
<path d="M3640 14V1160" stroke="#26c953" stroke-width="2" fill="none"/>
<path d="M3740 14V1160" stroke="#f47bf7" stroke-width="2" fill="none"/>
<text class="ax" x="3652" y="22.3">6.26</text>
<text class="ax" x="3652" y="165.6">6.083</text>
<text class="ax" x="3652" y="308.8">5.906</text>
<text class="ax" x="3652" y="452.1">5.729</text>
<text class="ax" x="3652" y="595.3">5.552</text>
<text class="ax" x="3652" y="738.5">5.375</text>
<text class="ax" x="3652" y="881.8">5.199</text>
<text class="ax" x="3652" y="1025.0">5.022</text>
<text class="ax" x="3652" y="1168.3">4.845</text>
<text class="ax" x="3753" y="22.3">109.78%</text>
<text class="ax" x="3753" y="213.3">73.19%</text>
<text class="ax" x="3753" y="404.3">36.59%</text>
<text class="ax" x="3753" y="595.3">0%</text>
<text class="ax" x="3753" y="738.5">-27.45%</text>
<text class="ax" x="3753" y="881.8">-54.89%</text>
<text class="ax" x="3753" y="1025.0">-82.34%</text>
<text class="ax" x="3753" y="1168.3">-109.78%</text>
<rect x="3646" y="1067" width="62" height="27" fill="#26c953"/><text class="bd" x="3652" y="1088.5">4.942</text>
<rect x="3746" y="618.5" width="75" height="26" fill="#f47bf7"/><text class="bd" x="3752" y="640">-8.71%</text>
<text class="ax" x="10" y="1189.7">25 Mar 22</text>
<text class="ax" x="363" y="1189.7" text-anchor="middle">31 Mar 22</text>
<text class="ax" x="726" y="1189.7" text-anchor="middle">06 Apr 22</text>
<text class="ax" x="1089" y="1189.7" text-anchor="middle">12 Apr 22</text>
<text class="ax" x="1452" y="1189.7" text-anchor="middle">18 Apr 22</text>
<text class="ax" x="1815" y="1189.7" text-anchor="middle">24 Apr 22</text>
<text class="ax" x="2178" y="1189.7" text-anchor="middle">30 Apr 22</text>
<text class="ax" x="2541" y="1189.7" text-anchor="middle">06 May 22</text>
<text class="ax" x="2904" y="1189.7" text-anchor="middle">12 May 22</text>
<text class="ax" x="3267" y="1189.7" text-anchor="middle">18 May 22</text>
<text class="ax" x="3630" y="1189.7" text-anchor="middle">23 May 22</text>
<rect x="1552" y="1242.5" width="18.5" height="18" fill="#26c953"/>
<text class="lg" x="1580.5" y="1260.3" textLength="144.5" lengthAdjust="spacingAndGlyphs">Price (LEO)</text>
<rect x="1764" y="1242.5" width="18.5" height="18" fill="#f47bf7"/>
<text class="lg" x="1792" y="1260.3" textLength="496.5" lengthAdjust="spacingAndGlyphs">Adjusted Price DAA Divergence (LEO)</text>
</svg></body></html>
